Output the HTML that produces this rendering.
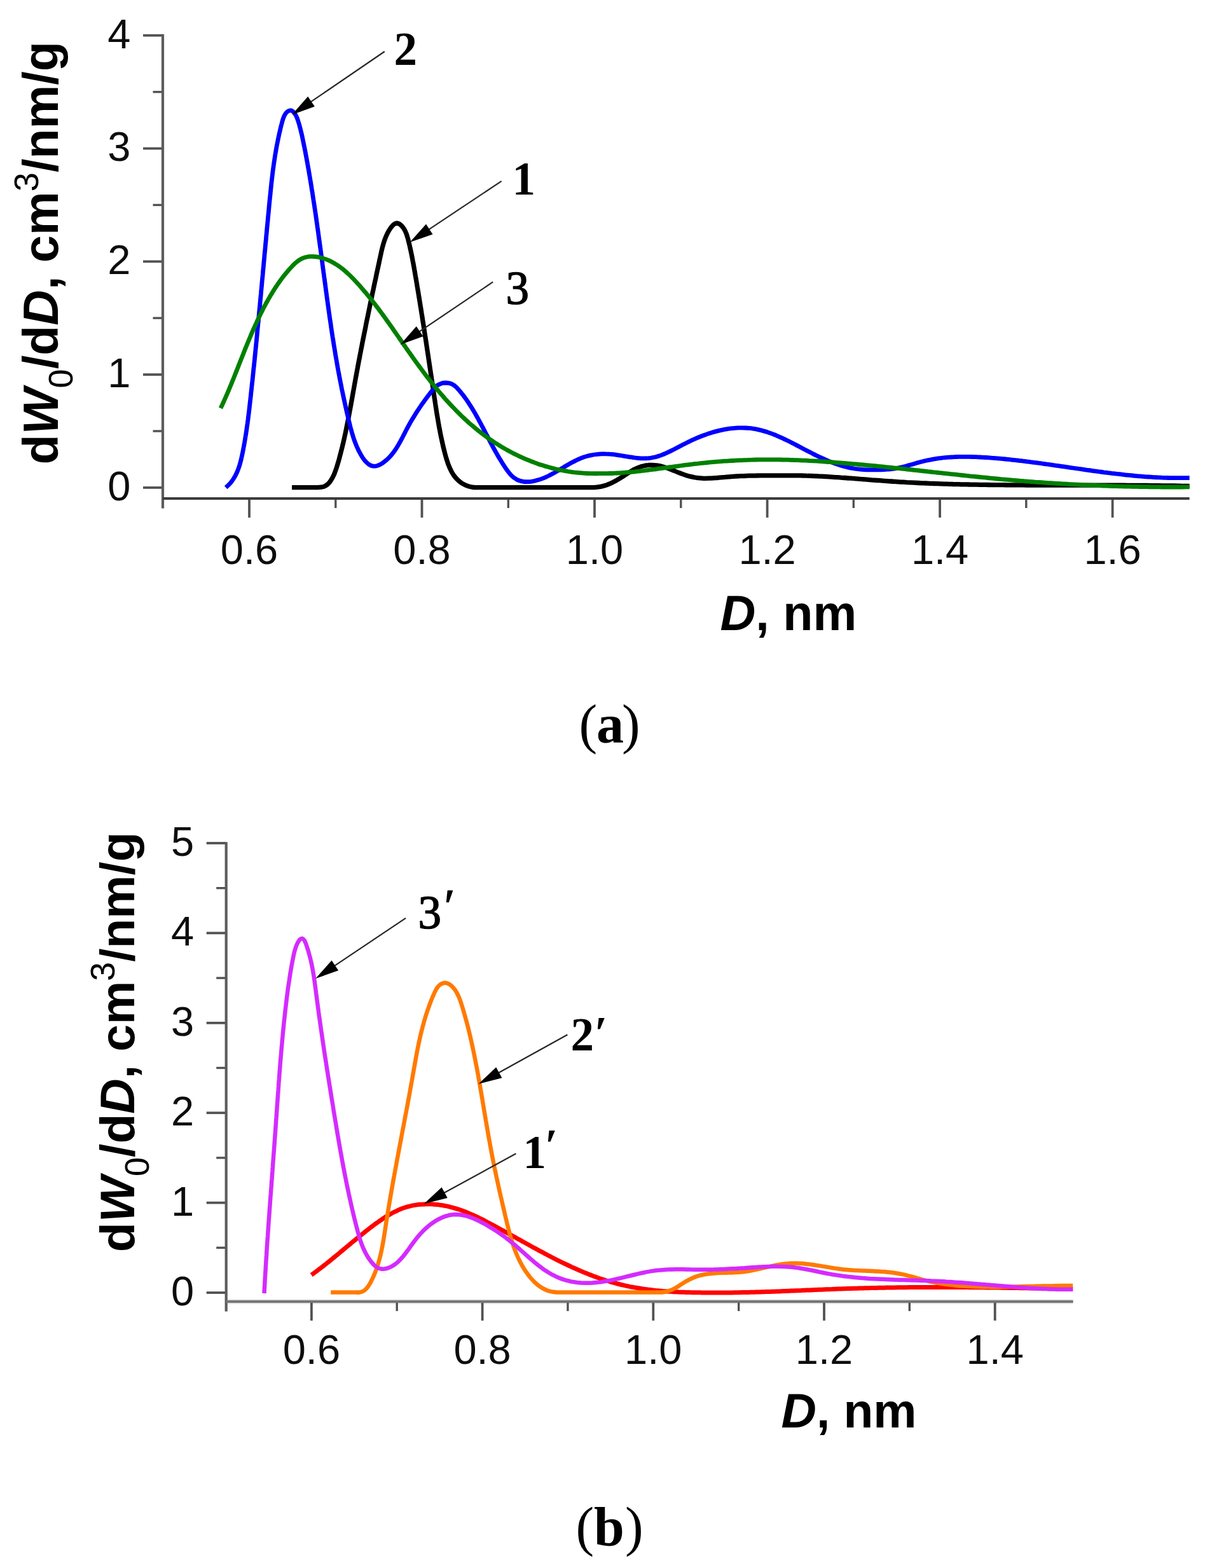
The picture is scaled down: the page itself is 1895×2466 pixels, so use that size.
<!DOCTYPE html>
<html lang="en"><head><meta charset="utf-8"><title>Micropore size distributions</title>
<style>
html,body{margin:0;padding:0;background:#fff;}
body{width:1895px;height:2466px;overflow:hidden;}
svg{display:block;}
.tk{font-family:"Liberation Sans",sans-serif;font-size:65px;fill:#0d0d0d;}
.ttl{font-family:"Liberation Sans",sans-serif;font-weight:bold;font-size:78px;fill:#000;}
.it{font-style:italic;}
.ss{font-size:54px;font-weight:normal;}
.nb{font-family:"Liberation Serif",serif;font-weight:bold;font-size:73px;fill:#000;}
.nr{font-family:"Liberation Serif",serif;font-weight:normal;font-size:73px;fill:#000;stroke:#000;stroke-width:1.5px;stroke-linejoin:round;}
.cap{font-family:"Liberation Serif",serif;font-size:86px;fill:#000;}
.crv{fill:none;stroke-linejoin:round;stroke-linecap:butt;}
</style></head><body>
<svg width="1895" height="2466" viewBox="0 0 1895 2466">
<rect width="1895" height="2466" fill="#fff"/>
<g id="chart-a">
<line x1="225.0" y1="766.9" x2="256.0" y2="766.9" stroke="#525252" stroke-width="3.8"/>
<text class="tk" x="205.5" y="786.8" text-anchor="end">0</text>
<line x1="240.5" y1="678.0" x2="256.0" y2="678.0" stroke="#525252" stroke-width="3.4"/>
<line x1="225.0" y1="589.1" x2="256.0" y2="589.1" stroke="#525252" stroke-width="3.8"/>
<text class="tk" x="205.5" y="609.0" text-anchor="end">1</text>
<line x1="240.5" y1="500.2" x2="256.0" y2="500.2" stroke="#525252" stroke-width="3.4"/>
<line x1="225.0" y1="411.3" x2="256.0" y2="411.3" stroke="#525252" stroke-width="3.8"/>
<text class="tk" x="205.5" y="431.2" text-anchor="end">2</text>
<line x1="240.5" y1="322.4" x2="256.0" y2="322.4" stroke="#525252" stroke-width="3.4"/>
<line x1="225.0" y1="233.5" x2="256.0" y2="233.5" stroke="#525252" stroke-width="3.8"/>
<text class="tk" x="205.5" y="253.4" text-anchor="end">3</text>
<line x1="240.5" y1="144.6" x2="256.0" y2="144.6" stroke="#525252" stroke-width="3.4"/>
<line x1="225.0" y1="55.7" x2="256.0" y2="55.7" stroke="#525252" stroke-width="3.8"/>
<text class="tk" x="205.5" y="75.6" text-anchor="end">4</text>
<line x1="392.0" y1="784.0" x2="392.0" y2="814.0" stroke="#525252" stroke-width="3.8"/>
<text class="tk" x="392.0" y="886.8" text-anchor="middle">0.6</text>
<line x1="527.8" y1="784.0" x2="527.8" y2="799.0" stroke="#525252" stroke-width="3.4"/>
<line x1="663.5" y1="784.0" x2="663.5" y2="814.0" stroke="#525252" stroke-width="3.8"/>
<text class="tk" x="663.5" y="886.8" text-anchor="middle">0.8</text>
<line x1="799.3" y1="784.0" x2="799.3" y2="799.0" stroke="#525252" stroke-width="3.4"/>
<line x1="935.0" y1="784.0" x2="935.0" y2="814.0" stroke="#525252" stroke-width="3.8"/>
<text class="tk" x="935.0" y="886.8" text-anchor="middle">1.0</text>
<line x1="1070.8" y1="784.0" x2="1070.8" y2="799.0" stroke="#525252" stroke-width="3.4"/>
<line x1="1206.6" y1="784.0" x2="1206.6" y2="814.0" stroke="#525252" stroke-width="3.8"/>
<text class="tk" x="1206.6" y="886.8" text-anchor="middle">1.2</text>
<line x1="1342.3" y1="784.0" x2="1342.3" y2="799.0" stroke="#525252" stroke-width="3.4"/>
<line x1="1478.1" y1="784.0" x2="1478.1" y2="814.0" stroke="#525252" stroke-width="3.8"/>
<text class="tk" x="1478.1" y="886.8" text-anchor="middle">1.4</text>
<line x1="1613.8" y1="784.0" x2="1613.8" y2="799.0" stroke="#525252" stroke-width="3.4"/>
<line x1="1749.6" y1="784.0" x2="1749.6" y2="814.0" stroke="#525252" stroke-width="3.8"/>
<text class="tk" x="1749.6" y="886.8" text-anchor="middle">1.6</text>
<line x1="256.0" y1="53.7" x2="256.0" y2="799.5" stroke="#5c5c5c" stroke-width="4.2"/>
<line x1="256.0" y1="784.0" x2="1870.6" y2="784.0" stroke="#3c3c3c" stroke-width="4"/>
<text class="ttl" style="font-size:77.3px" x="1132.5" y="990.9"><tspan class="it">D</tspan>, nm</text>
<text class="ttl" style="font-size:77.3px" transform="translate(91.0 730.6) rotate(-90)">d<tspan class="it">W</tspan><tspan class="ss" dy="23">0</tspan><tspan dy="-23">/d</tspan><tspan class="it">D</tspan>, cm<tspan class="ss" dy="-31">3</tspan><tspan dy="31">/nm/g</tspan></text>
<path class="crv" stroke-width="7.3" stroke="#000000" d="M459.0 766.6 L501.0 766.6M487.0 766.6C488.0 766.6 491.0 766.6 493.0 766.6C495.1 766.6 497.1 766.7 499.1 766.6C501.1 766.6 503.1 766.5 505.0 766.2C506.9 765.9 508.8 765.5 510.5 764.7C512.2 763.9 513.9 762.9 515.4 761.5C516.9 760.2 518.3 758.5 519.5 756.7C520.8 755.0 521.9 752.9 523.0 751.0C524.0 749.0 524.9 747.0 525.8 745.1C526.6 743.1 527.3 741.2 528.0 739.3C528.7 737.3 529.3 735.4 529.9 733.5C530.5 731.6 531.1 729.7 531.6 727.8C532.2 725.9 532.7 723.9 533.3 722.0C533.8 720.1 534.3 718.2 534.8 716.2C535.3 714.3 535.8 712.4 536.3 710.4C536.8 708.5 537.3 706.6 537.8 704.6C538.3 702.7 538.7 700.7 539.2 698.8C539.7 696.8 540.1 694.9 540.6 692.9C541.0 690.9 541.5 689.0 541.9 687.0C542.3 685.0 542.8 683.1 543.2 681.1C543.6 679.1 544.0 677.2 544.4 675.2C544.8 673.2 545.2 671.2 545.6 669.3C546.0 667.3 546.4 665.3 546.8 663.3C547.2 661.4 547.6 659.4 548.0 657.4C548.4 655.4 548.7 653.4 549.1 651.4C549.5 649.4 549.8 647.5 550.2 645.5C550.6 643.5 551.0 641.5 551.3 639.5C551.7 637.5 552.0 635.5 552.4 633.5C552.8 631.5 553.1 629.5 553.5 627.5C553.8 625.6 554.2 623.6 554.5 621.6C554.9 619.6 555.3 617.6 555.6 615.6C556.0 613.6 556.3 611.6 556.7 609.6C557.0 607.6 557.4 605.7 557.7 603.7C558.1 601.7 558.5 599.7 558.8 597.7C559.2 595.7 559.5 593.7 559.9 591.7C560.3 589.8 560.6 587.8 561.0 585.8C561.4 583.8 561.7 581.8 562.1 579.9C562.5 577.9 562.8 575.9 563.2 573.9C563.6 571.9 564.0 570.0 564.3 568.0C564.7 566.0 565.1 564.0 565.5 562.1C565.8 560.1 566.2 558.1 566.6 556.1C567.0 554.2 567.4 552.2 567.7 550.2C568.1 548.2 568.5 546.3 568.9 544.3C569.3 542.3 569.7 540.4 570.0 538.4C570.4 536.4 570.8 534.4 571.2 532.5C571.6 530.5 572.0 528.5 572.4 526.6C572.8 524.6 573.2 522.6 573.6 520.7C574.0 518.7 574.4 516.7 574.8 514.7C575.2 512.8 575.5 510.8 575.9 508.8C576.3 506.9 576.7 504.9 577.1 502.9C577.6 501.0 578.0 499.0 578.4 497.0C578.8 495.1 579.2 493.1 579.6 491.1C580.0 489.1 580.4 487.2 580.8 485.2C581.2 483.2 581.6 481.3 582.0 479.3C582.4 477.3 582.8 475.4 583.2 473.4C583.7 471.4 584.1 469.4 584.5 467.5C584.9 465.5 585.3 463.5 585.7 461.5C586.1 459.6 586.6 457.6 587.0 455.6C587.4 453.7 587.8 451.7 588.2 449.7C588.6 447.7 589.1 445.7 589.5 443.8C589.9 441.8 590.3 439.8 590.8 437.8C591.2 435.9 591.6 433.9 592.0 431.9C592.4 429.9 592.9 427.9 593.3 425.9C593.7 424.0 594.1 422.0 594.6 420.0C595.0 418.0 595.4 416.0 595.9 414.0C596.3 412.1 596.7 410.1 597.1 408.1C597.6 406.1 598.0 404.1 598.4 402.1C598.9 400.1 599.3 398.1 599.7 396.1C600.2 394.1 600.6 392.2 601.1 390.2C601.6 388.2 602.1 386.2 602.7 384.3C603.3 382.3 603.8 380.4 604.5 378.5C605.2 376.6 605.8 374.7 606.6 372.8C607.4 370.9 608.2 369.1 609.1 367.3C610.0 365.5 611.0 363.7 612.1 361.9C613.2 360.2 614.4 358.3 615.6 356.8C616.9 355.3 618.2 353.7 619.6 352.8C621.0 351.8 622.5 351.1 624.0 351.0C625.5 351.0 627.1 351.6 628.6 352.5C630.1 353.5 631.6 355.0 632.9 356.6C634.2 358.1 635.5 360.1 636.5 361.9C637.5 363.8 638.3 365.8 639.1 367.7C639.8 369.7 640.4 371.8 641.0 373.8C641.6 375.8 642.1 377.8 642.6 379.9C643.1 381.9 643.6 383.9 644.1 385.9C644.5 387.9 645.0 389.9 645.4 391.9C645.9 393.9 646.3 395.8 646.7 397.8C647.1 399.8 647.5 401.8 647.9 403.7C648.3 405.7 648.7 407.7 649.0 409.6C649.4 411.6 649.8 413.5 650.1 415.5C650.5 417.5 650.8 419.4 651.2 421.4C651.5 423.3 651.9 425.3 652.2 427.3C652.6 429.2 652.9 431.2 653.2 433.1C653.6 435.1 653.9 437.1 654.3 439.0C654.6 441.0 654.9 443.0 655.3 445.0C655.6 446.9 655.9 448.9 656.2 450.9C656.6 452.9 656.9 454.8 657.2 456.8C657.6 458.8 657.9 460.8 658.2 462.8C658.5 464.8 658.9 466.7 659.2 468.7C659.5 470.7 659.8 472.7 660.2 474.7C660.5 476.7 660.8 478.7 661.1 480.7C661.4 482.7 661.8 484.7 662.1 486.6C662.4 488.6 662.7 490.6 663.0 492.6C663.4 494.6 663.7 496.6 664.0 498.6C664.3 500.6 664.6 502.6 664.9 504.6C665.2 506.6 665.5 508.6 665.9 510.6C666.2 512.6 666.5 514.6 666.8 516.6C667.1 518.6 667.4 520.6 667.7 522.6C668.0 524.6 668.3 526.6 668.6 528.6C668.9 530.7 669.3 532.7 669.6 534.7C669.9 536.7 670.2 538.7 670.5 540.7C670.8 542.7 671.1 544.7 671.4 546.7C671.7 548.7 672.0 550.7 672.3 552.7C672.6 554.7 672.9 556.7 673.2 558.7C673.5 560.7 673.8 562.7 674.1 564.7C674.4 566.7 674.7 568.7 675.0 570.7C675.3 572.7 675.6 574.7 675.9 576.7C676.2 578.7 676.5 580.7 676.8 582.7C677.1 584.7 677.4 586.7 677.7 588.7C678.0 590.7 678.3 592.6 678.6 594.6C678.9 596.6 679.2 598.6 679.5 600.6C679.8 602.6 680.1 604.6 680.4 606.6C680.7 608.6 681.0 610.5 681.3 612.5C681.5 614.5 681.8 616.5 682.1 618.5C682.4 620.4 682.7 622.4 683.0 624.4C683.3 626.4 683.6 628.3 683.9 630.3C684.2 632.3 684.5 634.3 684.8 636.2C685.1 638.2 685.4 640.2 685.7 642.1C686.0 644.1 686.3 646.1 686.6 648.0C686.9 650.0 687.3 652.0 687.6 653.9C687.9 655.9 688.2 657.9 688.6 659.8C688.9 661.8 689.2 663.8 689.6 665.7C689.9 667.7 690.3 669.7 690.6 671.7C691.0 673.6 691.4 675.6 691.8 677.6C692.1 679.6 692.5 681.5 692.9 683.5C693.3 685.5 693.7 687.5 694.2 689.5C694.6 691.5 695.0 693.5 695.5 695.5C695.9 697.5 696.4 699.5 696.8 701.5C697.3 703.5 697.8 705.5 698.3 707.5C698.8 709.5 699.3 711.5 699.8 713.5C700.4 715.6 700.9 717.6 701.5 719.6C702.1 721.6 702.7 723.6 703.4 725.6C704.0 727.6 704.7 729.5 705.4 731.4C706.2 733.4 707.0 735.3 707.8 737.1C708.6 738.9 709.5 740.7 710.5 742.5C711.5 744.2 712.5 745.9 713.6 747.5C714.8 749.1 715.9 750.6 717.2 752.1C718.5 753.5 719.9 754.9 721.3 756.2C722.8 757.4 724.4 758.6 726.0 759.7C727.7 760.8 729.4 761.7 731.2 762.6C733.0 763.4 734.9 764.2 736.8 764.8C738.7 765.4 740.6 765.8 742.6 766.1C744.6 766.5 746.6 766.6 748.6 766.7C750.6 766.7 752.6 766.6 754.7 766.6C756.7 766.6 759.7 766.6 760.7 766.6M746.7 766.6 L932.1 766.6M918.1 766.6C919.1 766.6 922.2 766.7 924.3 766.7C926.3 766.7 928.4 766.7 930.4 766.6C932.5 766.6 934.5 766.5 936.5 766.3C938.5 766.2 940.6 765.9 942.6 765.6C944.5 765.3 946.5 764.9 948.5 764.4C950.4 763.9 952.3 763.3 954.2 762.7C956.1 762.0 958.0 761.2 959.9 760.4C961.8 759.5 963.6 758.6 965.4 757.6C967.3 756.7 969.1 755.7 970.9 754.6C972.7 753.5 974.5 752.4 976.3 751.3C978.1 750.2 979.9 749.1 981.7 747.9C983.5 746.8 985.2 745.6 987.0 744.5C988.8 743.3 990.6 742.2 992.4 741.1C994.2 740.1 996.0 739.0 997.8 738.1C999.6 737.2 1001.5 736.3 1003.3 735.5C1005.2 734.8 1007.0 734.1 1008.9 733.5C1010.8 733.0 1012.7 732.6 1014.6 732.2C1016.5 731.9 1018.5 731.7 1020.4 731.5C1022.4 731.4 1024.3 731.4 1026.3 731.4C1028.3 731.5 1030.2 731.7 1032.2 731.9C1034.2 732.2 1036.2 732.5 1038.1 732.9C1040.1 733.4 1042.1 733.9 1044.0 734.5C1046.0 735.1 1048.0 735.7 1049.9 736.4C1051.9 737.1 1053.9 737.9 1055.8 738.6C1057.8 739.4 1059.8 740.2 1061.7 741.0C1063.7 741.8 1065.7 742.6 1067.6 743.4C1069.6 744.2 1071.6 745.0 1073.5 745.7C1075.5 746.4 1077.5 747.1 1079.4 747.7C1081.4 748.3 1083.4 748.9 1085.4 749.4C1087.4 749.9 1089.4 750.3 1091.4 750.7C1093.4 751.0 1095.4 751.4 1097.4 751.6C1099.4 751.8 1101.4 752.0 1103.4 752.1C1105.4 752.2 1107.5 752.3 1109.5 752.3C1111.5 752.3 1113.6 752.3 1115.6 752.2C1117.6 752.1 1119.7 752.0 1121.7 751.9C1123.8 751.8 1125.8 751.6 1127.9 751.5C1129.9 751.3 1132.0 751.1 1134.0 750.9C1136.1 750.7 1138.2 750.5 1140.2 750.4C1142.3 750.2 1144.3 750.0 1146.4 749.8C1148.4 749.7 1150.5 749.5 1152.5 749.4C1154.6 749.3 1156.6 749.1 1158.7 749.0C1160.7 748.9 1162.8 748.8 1164.8 748.7C1166.9 748.6 1168.9 748.5 1171.0 748.5C1173.0 748.4 1175.1 748.3 1177.1 748.2C1179.2 748.2 1181.2 748.1 1183.3 748.1C1185.3 748.0 1187.4 748.0 1189.4 748.0C1191.5 747.9 1193.5 747.9 1195.6 747.9C1197.6 747.9 1199.7 747.8 1201.7 747.8C1203.8 747.8 1205.8 747.8 1207.9 747.8C1209.9 747.8 1212.0 747.8 1214.0 747.8C1216.1 747.8 1219.2 747.8 1220.2 747.8M1206.2 747.8 L1251.4 747.8M1237.4 747.8C1238.4 747.8 1241.5 747.8 1243.5 747.8C1245.5 747.8 1247.6 747.8 1249.6 747.8C1251.6 747.8 1253.6 747.9 1255.7 747.9C1257.7 747.9 1259.7 748.0 1261.8 748.0C1263.8 748.1 1265.8 748.1 1267.9 748.2C1269.9 748.2 1271.9 748.3 1273.9 748.4C1276.0 748.5 1278.0 748.5 1280.0 748.6C1282.0 748.7 1284.1 748.8 1286.1 748.9C1288.1 749.0 1290.2 749.1 1292.2 749.2C1294.2 749.3 1296.2 749.4 1298.3 749.5C1300.3 749.6 1302.3 749.8 1304.3 749.9C1306.4 750.0 1308.4 750.1 1310.4 750.3C1312.4 750.4 1314.5 750.5 1316.5 750.7C1318.5 750.8 1320.6 750.9 1322.6 751.1C1324.6 751.2 1326.6 751.4 1328.7 751.5C1330.7 751.7 1332.7 751.8 1334.7 752.0C1336.8 752.1 1338.8 752.3 1340.8 752.4C1342.8 752.6 1344.9 752.7 1346.9 752.9C1348.9 753.1 1350.9 753.2 1353.0 753.4C1355.0 753.5 1357.0 753.7 1359.0 753.8C1361.1 754.0 1363.1 754.2 1365.1 754.3C1367.1 754.5 1369.2 754.6 1371.2 754.8C1373.2 754.9 1375.2 755.1 1377.3 755.3C1379.3 755.4 1381.3 755.6 1383.3 755.7C1385.4 755.9 1387.4 756.0 1389.4 756.2C1391.4 756.3 1393.5 756.5 1395.5 756.6C1397.5 756.8 1399.5 756.9 1401.6 757.0C1403.6 757.2 1405.6 757.3 1407.6 757.4C1409.7 757.6 1411.7 757.7 1413.7 757.8C1415.7 758.0 1417.8 758.1 1419.8 758.2C1421.8 758.3 1423.9 758.4 1425.9 758.6C1427.9 758.7 1429.9 758.8 1432.0 758.9C1434.0 759.0 1436.0 759.1 1438.0 759.2C1440.1 759.3 1442.1 759.4 1444.1 759.5C1446.2 759.6 1448.2 759.7 1450.2 759.8C1452.2 759.9 1454.3 759.9 1456.3 760.0C1458.3 760.1 1460.4 760.2 1462.4 760.3C1464.4 760.4 1466.4 760.4 1468.5 760.5C1470.5 760.6 1472.5 760.7 1474.6 760.7C1476.6 760.8 1478.6 760.9 1480.6 760.9C1482.7 761.0 1484.7 761.1 1486.7 761.1C1488.8 761.2 1490.8 761.2 1492.8 761.3C1494.8 761.4 1496.9 761.4 1498.9 761.5C1500.9 761.5 1503.0 761.6 1505.0 761.6C1507.0 761.7 1509.1 761.7 1511.1 761.8C1513.1 761.8 1515.1 761.8 1517.2 761.9C1519.2 761.9 1521.2 762.0 1523.3 762.0C1525.3 762.0 1527.3 762.1 1529.4 762.1C1531.4 762.2 1533.4 762.2 1535.5 762.2C1537.5 762.3 1539.5 762.3 1541.5 762.3C1543.6 762.3 1545.6 762.4 1547.6 762.4C1549.7 762.4 1551.7 762.5 1553.7 762.5C1555.8 762.5 1557.8 762.5 1559.8 762.6C1561.9 762.6 1563.9 762.6 1565.9 762.6C1567.9 762.6 1570.0 762.7 1572.0 762.7C1574.0 762.7 1576.1 762.7 1578.1 762.7C1580.1 762.7 1582.2 762.8 1584.2 762.8C1586.2 762.8 1588.3 762.8 1590.3 762.8C1592.3 762.8 1594.4 762.8 1596.4 762.9C1598.4 762.9 1600.5 762.9 1602.5 762.9C1604.5 762.9 1606.5 762.9 1608.6 762.9C1610.6 762.9 1612.6 762.9 1614.7 763.0C1616.7 763.0 1618.7 763.0 1620.8 763.0C1622.8 763.0 1624.8 763.0 1626.9 763.0C1628.9 763.0 1630.9 763.0 1633.0 763.0C1635.0 763.0 1637.0 763.0 1639.1 763.0C1641.1 763.0 1643.1 763.0 1645.1 763.0C1647.2 763.0 1649.2 763.0 1651.2 763.1C1653.3 763.1 1655.3 763.1 1657.3 763.1C1659.4 763.1 1661.4 763.1 1663.4 763.1C1665.5 763.1 1667.5 763.1 1669.5 763.1C1671.6 763.1 1673.6 763.1 1675.6 763.1C1677.7 763.1 1679.7 763.1 1681.7 763.1C1683.8 763.1 1685.8 763.1 1687.8 763.1C1689.9 763.1 1691.9 763.1 1693.9 763.1C1695.9 763.1 1698.0 763.1 1700.0 763.1C1702.0 763.1 1704.1 763.1 1706.1 763.1C1708.1 763.1 1710.2 763.1 1712.2 763.1C1714.2 763.1 1716.3 763.1 1718.3 763.1C1720.3 763.1 1722.4 763.1 1724.4 763.1C1726.4 763.1 1728.5 763.1 1730.5 763.1C1732.5 763.1 1734.6 763.1 1736.6 763.1C1738.6 763.1 1740.6 763.2 1742.7 763.2C1744.7 763.2 1746.7 763.2 1748.8 763.2C1750.8 763.2 1752.8 763.2 1754.9 763.2C1756.9 763.2 1758.9 763.2 1761.0 763.2C1763.0 763.2 1765.0 763.2 1767.1 763.2C1769.1 763.3 1771.1 763.3 1773.1 763.3C1775.2 763.3 1777.2 763.3 1779.2 763.3C1781.3 763.3 1783.3 763.3 1785.3 763.3C1787.4 763.4 1789.4 763.4 1791.4 763.4C1793.5 763.4 1795.5 763.4 1797.5 763.4C1799.5 763.5 1801.6 763.5 1803.6 763.5C1805.6 763.5 1807.7 763.5 1809.7 763.6C1811.7 763.6 1813.8 763.6 1815.8 763.6C1817.8 763.6 1819.9 763.7 1821.9 763.7C1823.9 763.7 1825.9 763.7 1828.0 763.8C1830.0 763.8 1832.0 763.8 1834.1 763.8C1836.1 763.9 1838.1 763.9 1840.2 763.9C1842.2 764.0 1844.2 764.0 1846.2 764.0C1848.3 764.1 1850.3 764.1 1852.3 764.1C1854.4 764.2 1856.4 764.2 1858.4 764.3C1860.5 764.3 1862.5 764.3 1864.5 764.4C1866.5 764.4 1869.6 764.5 1870.6 764.5"/>
<path class="crv" stroke-width="6.8" stroke="#0000ff" d="M355.2 766.7C356.0 766.0 358.3 763.9 359.8 762.4C361.2 761.0 362.5 759.4 363.8 757.9C365.0 756.3 366.1 754.7 367.2 753.0C368.3 751.3 369.3 749.6 370.2 747.9C371.1 746.1 372.0 744.3 372.8 742.5C373.6 740.7 374.3 738.8 375.0 736.9C375.6 735.1 376.3 733.2 376.9 731.2C377.4 729.3 378.0 727.4 378.5 725.4C379.0 723.5 379.5 721.5 379.9 719.5C380.4 717.5 380.8 715.5 381.2 713.5C381.6 711.6 382.0 709.6 382.4 707.6C382.8 705.6 383.2 703.6 383.5 701.6C383.9 699.6 384.2 697.6 384.6 695.6C384.9 693.7 385.3 691.7 385.6 689.7C385.9 687.7 386.2 685.7 386.6 683.7C386.9 681.7 387.2 679.8 387.5 677.8C387.8 675.8 388.1 673.8 388.3 671.8C388.6 669.8 388.9 667.8 389.2 665.9C389.4 663.9 389.7 661.9 390.0 659.9C390.2 657.9 390.5 655.9 390.7 654.0C391.0 652.0 391.2 650.0 391.5 648.0C391.7 646.0 391.9 644.0 392.2 642.0C392.4 640.1 392.6 638.1 392.8 636.1C393.1 634.1 393.3 632.1 393.5 630.1C393.7 628.1 394.0 626.1 394.2 624.2C394.4 622.2 394.6 620.2 394.8 618.2C395.0 616.2 395.3 614.2 395.5 612.2C395.7 610.2 395.9 608.2 396.1 606.2C396.3 604.2 396.5 602.2 396.8 600.3C397.0 598.3 397.2 596.3 397.4 594.3C397.6 592.3 397.8 590.3 398.0 588.3C398.2 586.3 398.4 584.3 398.6 582.3C398.8 580.3 399.0 578.3 399.3 576.3C399.5 574.3 399.7 572.3 399.9 570.3C400.1 568.3 400.3 566.3 400.5 564.3C400.7 562.3 400.9 560.3 401.1 558.3C401.3 556.3 401.5 554.3 401.7 552.3C401.9 550.3 402.1 548.3 402.3 546.3C402.5 544.3 402.7 542.3 402.9 540.3C403.1 538.3 403.3 536.3 403.5 534.3C403.7 532.3 403.9 530.3 404.1 528.2C404.3 526.2 404.4 524.2 404.6 522.2C404.8 520.2 405.0 518.2 405.2 516.2C405.4 514.2 405.6 512.2 405.8 510.2C406.0 508.2 406.2 506.2 406.4 504.2C406.6 502.2 406.8 500.2 407.0 498.2C407.1 496.2 407.3 494.1 407.5 492.1C407.7 490.1 407.9 488.1 408.1 486.1C408.3 484.1 408.5 482.1 408.7 480.1C408.9 478.1 409.0 476.1 409.2 474.1C409.4 472.1 409.6 470.1 409.8 468.1C410.0 466.1 410.2 464.0 410.4 462.0C410.5 460.0 410.7 458.0 410.9 456.0C411.1 454.0 411.3 452.0 411.5 450.0C411.7 448.0 411.9 446.0 412.0 444.0C412.2 442.0 412.4 440.0 412.6 438.0C412.8 436.0 413.0 434.0 413.2 432.0C413.3 430.0 413.5 427.9 413.7 425.9C413.9 423.9 414.1 421.9 414.3 419.9C414.5 417.9 414.6 415.9 414.8 413.9C415.0 411.9 415.2 409.9 415.4 407.9C415.6 405.9 415.8 403.9 415.9 401.9C416.1 399.9 416.3 397.9 416.5 395.9C416.7 393.9 416.9 391.9 417.1 389.9C417.2 387.9 417.4 385.9 417.6 383.9C417.8 381.9 418.0 379.9 418.2 377.9C418.4 375.9 418.5 373.9 418.7 371.9C418.9 369.9 419.1 367.9 419.3 365.9C419.5 363.9 419.7 362.0 419.8 360.0C420.0 358.0 420.2 356.0 420.4 354.0C420.6 352.0 420.8 350.0 421.0 348.0C421.2 346.0 421.3 344.0 421.5 342.0C421.7 340.0 421.9 338.1 422.1 336.1C422.3 334.1 422.5 332.1 422.7 330.1C422.9 328.1 423.0 326.1 423.2 324.1C423.4 322.2 423.6 320.2 423.8 318.2C424.0 316.2 424.2 314.2 424.4 312.2C424.6 310.3 424.8 308.3 425.0 306.3C425.2 304.3 425.4 302.3 425.6 300.3C425.8 298.4 426.0 296.4 426.2 294.4C426.4 292.4 426.6 290.4 426.8 288.5C427.0 286.5 427.3 284.5 427.5 282.5C427.7 280.5 428.0 278.5 428.2 276.6C428.4 274.6 428.7 272.6 428.9 270.6C429.2 268.6 429.4 266.6 429.7 264.6C430.0 262.7 430.2 260.7 430.5 258.7C430.8 256.7 431.1 254.7 431.4 252.7C431.7 250.7 432.0 248.7 432.3 246.7C432.6 244.7 432.9 242.7 433.3 240.7C433.6 238.7 434.0 236.7 434.3 234.7C434.7 232.7 435.0 230.7 435.4 228.7C435.8 226.7 436.2 224.7 436.6 222.6C437.0 220.6 437.4 218.6 437.8 216.6C438.3 214.6 438.7 212.5 439.1 210.5C439.6 208.5 440.1 206.5 440.6 204.4C441.0 202.4 441.5 200.4 442.0 198.3C442.6 196.3 443.1 194.2 443.6 192.2C444.2 190.2 444.7 188.1 445.4 186.3C446.1 184.4 446.8 182.5 447.7 180.9C448.6 179.3 449.6 177.9 450.8 176.7C452.0 175.5 453.5 174.4 454.9 174.0C456.4 173.6 458.1 173.6 459.6 174.4C461.1 175.2 462.5 177.0 463.7 178.7C464.9 180.4 465.9 182.6 466.8 184.6C467.7 186.6 468.3 188.5 468.9 190.5C469.6 192.5 470.1 194.4 470.7 196.4C471.2 198.3 471.7 200.3 472.2 202.2C472.7 204.2 473.2 206.1 473.7 208.1C474.2 210.1 474.6 212.0 475.1 214.0C475.5 215.9 475.9 217.9 476.3 219.9C476.7 221.8 477.1 223.8 477.5 225.8C477.9 227.7 478.3 229.7 478.7 231.6C479.1 233.6 479.5 235.6 479.9 237.5C480.2 239.5 480.6 241.5 481.0 243.5C481.4 245.4 481.7 247.4 482.1 249.4C482.4 251.3 482.8 253.3 483.2 255.3C483.5 257.3 483.9 259.2 484.2 261.2C484.6 263.2 484.9 265.2 485.3 267.1C485.6 269.1 486.0 271.1 486.3 273.1C486.6 275.0 487.0 277.0 487.3 279.0C487.6 281.0 488.0 283.0 488.3 284.9C488.6 286.9 489.0 288.9 489.3 290.9C489.6 292.9 489.9 294.8 490.2 296.8C490.6 298.8 490.9 300.8 491.2 302.8C491.5 304.8 491.8 306.7 492.1 308.7C492.4 310.7 492.7 312.7 493.0 314.7C493.3 316.7 493.6 318.7 493.9 320.6C494.2 322.6 494.5 324.6 494.8 326.6C495.1 328.6 495.4 330.6 495.7 332.6C496.0 334.6 496.3 336.5 496.6 338.5C496.9 340.5 497.2 342.5 497.4 344.5C497.7 346.5 498.0 348.5 498.3 350.5C498.6 352.5 498.9 354.5 499.1 356.4C499.4 358.4 499.7 360.4 500.0 362.4C500.3 364.4 500.5 366.4 500.8 368.4C501.1 370.4 501.3 372.4 501.6 374.4C501.9 376.4 502.2 378.4 502.4 380.4C502.7 382.3 503.0 384.3 503.2 386.3C503.5 388.3 503.8 390.3 504.1 392.3C504.3 394.3 504.6 396.3 504.9 398.3C505.1 400.3 505.4 402.3 505.7 404.3C505.9 406.3 506.2 408.3 506.5 410.3C506.7 412.2 507.0 414.2 507.2 416.2C507.5 418.2 507.8 420.2 508.0 422.2C508.3 424.2 508.6 426.2 508.8 428.2C509.1 430.2 509.4 432.2 509.6 434.2C509.9 436.2 510.2 438.2 510.4 440.1C510.7 442.1 511.0 444.1 511.2 446.1C511.5 448.1 511.8 450.1 512.0 452.1C512.3 454.1 512.6 456.1 512.8 458.1C513.1 460.1 513.4 462.1 513.6 464.0C513.9 466.0 514.2 468.0 514.4 470.0C514.7 472.0 515.0 474.0 515.3 476.0C515.5 478.0 515.8 480.0 516.1 482.0C516.4 483.9 516.6 485.9 516.9 487.9C517.2 489.9 517.5 491.9 517.8 493.9C518.0 495.9 518.3 497.9 518.6 499.9C518.9 501.8 519.2 503.8 519.5 505.8C519.8 507.8 520.1 509.8 520.4 511.8C520.6 513.8 520.9 515.7 521.2 517.7C521.5 519.7 521.8 521.7 522.1 523.7C522.4 525.7 522.7 527.7 523.0 529.6C523.4 531.6 523.7 533.6 524.0 535.6C524.3 537.6 524.6 539.6 524.9 541.5C525.2 543.5 525.6 545.5 525.9 547.5C526.2 549.5 526.5 551.5 526.9 553.4C527.2 555.4 527.5 557.4 527.8 559.4C528.2 561.4 528.5 563.3 528.9 565.3C529.2 567.3 529.5 569.3 529.9 571.2C530.2 573.2 530.6 575.2 530.9 577.2C531.3 579.2 531.7 581.1 532.0 583.1C532.4 585.1 532.8 587.1 533.1 589.0C533.5 591.0 533.9 593.0 534.2 595.0C534.6 596.9 535.0 598.9 535.4 600.9C535.8 602.9 536.2 604.8 536.6 606.8C536.9 608.8 537.3 610.7 537.7 612.7C538.2 614.7 538.6 616.7 539.0 618.6C539.4 620.6 539.8 622.6 540.2 624.5C540.6 626.5 541.1 628.5 541.5 630.4C541.9 632.4 542.3 634.4 542.8 636.3C543.2 638.3 543.6 640.2 544.1 642.2C544.5 644.2 545.0 646.1 545.4 648.1C545.9 650.1 546.3 652.0 546.8 654.0C547.2 655.9 547.7 657.9 548.2 659.8C548.6 661.8 549.1 663.7 549.6 665.7C550.1 667.6 550.5 669.6 551.0 671.5C551.5 673.5 552.1 675.4 552.6 677.4C553.1 679.3 553.7 681.2 554.2 683.1C554.8 685.1 555.4 687.0 556.0 688.9C556.7 690.8 557.3 692.7 558.0 694.5C558.7 696.4 559.4 698.3 560.2 700.1C560.9 702.0 561.7 703.8 562.6 705.6C563.4 707.5 564.3 709.3 565.3 711.1C566.2 712.9 567.2 714.6 568.3 716.4C569.3 718.1 570.4 719.9 571.6 721.6C572.8 723.2 574.0 724.9 575.5 726.3C576.9 727.8 578.4 729.2 580.1 730.3C581.8 731.4 583.7 732.4 585.6 732.8C587.5 733.3 589.5 733.3 591.4 733.0C593.3 732.7 595.3 731.8 597.1 730.9C598.9 730.0 600.7 728.8 602.4 727.7C604.0 726.5 605.6 725.3 607.2 724.0C608.7 722.7 610.2 721.3 611.6 719.9C613.0 718.5 614.3 717.0 615.6 715.5C616.9 714.0 618.1 712.4 619.3 710.8C620.5 709.2 621.6 707.6 622.7 705.9C623.8 704.2 624.9 702.5 625.9 700.7C626.9 699.0 627.9 697.2 628.9 695.5C629.9 693.7 630.9 691.9 631.8 690.1C632.8 688.3 633.7 686.5 634.6 684.6C635.6 682.8 636.5 681.0 637.4 679.2C638.3 677.4 639.3 675.6 640.2 673.8C641.2 672.1 642.1 670.3 643.1 668.5C644.1 666.8 645.0 665.0 646.0 663.3C647.0 661.6 648.0 659.9 649.1 658.2C650.1 656.5 651.1 654.8 652.2 653.1C653.2 651.4 654.3 649.7 655.3 648.1C656.4 646.4 657.5 644.7 658.6 643.1C659.7 641.4 660.8 639.8 662.0 638.1C663.1 636.5 664.2 634.8 665.4 633.2C666.6 631.6 667.8 629.9 669.0 628.3C670.1 626.7 671.4 625.0 672.6 623.4C673.8 621.8 675.1 620.1 676.3 618.5C677.6 616.8 678.9 615.2 680.2 613.6C681.5 612.0 682.9 610.4 684.3 609.0C685.8 607.7 687.3 606.3 689.0 605.3C690.7 604.3 692.5 603.5 694.4 602.9C696.3 602.4 698.4 602.1 700.4 602.0C702.4 602.0 704.5 602.2 706.5 602.6C708.4 603.1 710.4 603.8 712.1 604.7C713.8 605.7 715.4 606.9 716.9 608.2C718.3 609.5 719.6 611.1 720.9 612.6C722.3 614.0 723.5 615.6 724.8 617.1C726.1 618.7 727.3 620.3 728.6 621.9C729.8 623.5 731.0 625.1 732.2 626.8C733.4 628.4 734.5 630.1 735.7 631.8C736.8 633.5 737.9 635.2 739.0 636.9C740.1 638.6 741.2 640.3 742.3 642.1C743.4 643.8 744.4 645.6 745.5 647.3C746.5 649.1 747.5 650.8 748.5 652.6C749.5 654.4 750.5 656.1 751.5 657.9C752.5 659.7 753.4 661.5 754.4 663.2C755.3 665.0 756.3 666.7 757.2 668.5C758.1 670.2 759.1 672.0 760.0 673.7C760.9 675.5 761.8 677.2 762.7 679.0C763.6 680.7 764.5 682.4 765.4 684.2C766.3 685.9 767.2 687.6 768.1 689.4C769.0 691.1 769.9 692.8 770.8 694.6C771.7 696.3 772.6 698.0 773.6 699.8C774.5 701.5 775.4 703.2 776.4 705.0C777.3 706.7 778.3 708.5 779.3 710.2C780.3 712.0 781.3 713.7 782.3 715.5C783.3 717.3 784.3 719.1 785.4 720.8C786.5 722.6 787.5 724.4 788.7 726.2C789.8 728.0 790.9 729.8 792.1 731.6C793.2 733.4 794.4 735.3 795.7 737.1C796.9 738.8 798.2 740.6 799.5 742.3C800.8 744.0 802.2 745.6 803.6 747.1C805.1 748.6 806.5 750.0 808.1 751.2C809.6 752.4 811.3 753.4 812.9 754.3C814.6 755.1 816.4 755.8 818.2 756.3C820.0 756.9 821.8 757.2 823.7 757.5C825.6 757.7 827.5 757.8 829.4 757.7C831.4 757.7 833.4 757.5 835.3 757.3C837.3 757.0 839.3 756.7 841.2 756.2C843.2 755.8 845.2 755.2 847.1 754.6C849.1 754.0 851.0 753.3 852.9 752.6C854.8 751.9 856.7 751.1 858.5 750.3C860.4 749.4 862.2 748.6 864.0 747.6C865.8 746.7 867.6 745.8 869.4 744.8C871.2 743.9 872.9 742.9 874.7 741.8C876.4 740.8 878.2 739.8 879.9 738.8C881.7 737.7 883.4 736.7 885.2 735.6C886.9 734.6 888.6 733.6 890.4 732.5C892.1 731.5 893.8 730.5 895.6 729.5C897.3 728.5 899.1 727.6 900.8 726.6C902.6 725.7 904.4 724.8 906.1 723.9C907.9 723.1 909.7 722.2 911.5 721.5C913.4 720.7 915.2 720.0 917.1 719.3C918.9 718.6 920.8 718.0 922.7 717.5C924.6 717.0 926.5 716.5 928.5 716.1C930.4 715.7 932.4 715.3 934.3 715.0C936.3 714.7 938.3 714.5 940.3 714.3C942.3 714.1 944.3 714.0 946.3 713.9C948.4 713.8 950.4 713.8 952.4 713.9C954.5 713.9 956.5 714.0 958.6 714.2C960.7 714.3 962.7 714.5 964.8 714.7C966.8 715.0 968.9 715.3 971.0 715.6C973.1 715.9 975.1 716.2 977.2 716.5C979.3 716.9 981.3 717.2 983.4 717.6C985.4 717.9 987.5 718.3 989.5 718.6C991.6 718.9 993.6 719.3 995.7 719.5C997.7 719.8 999.7 720.1 1001.7 720.3C1003.7 720.5 1005.7 720.7 1007.7 720.8C1009.7 720.9 1011.7 721.0 1013.6 720.9C1015.6 720.9 1017.5 720.8 1019.4 720.7C1021.4 720.5 1023.2 720.2 1025.1 719.9C1027.0 719.6 1028.9 719.1 1030.7 718.7C1032.6 718.2 1034.4 717.6 1036.3 717.1C1038.1 716.5 1039.9 715.8 1041.7 715.1C1043.5 714.4 1045.3 713.6 1047.1 712.9C1048.9 712.1 1050.7 711.2 1052.5 710.4C1054.3 709.5 1056.1 708.6 1057.9 707.7C1059.7 706.8 1061.5 705.9 1063.3 705.0C1065.1 704.0 1066.9 703.1 1068.7 702.1C1070.5 701.2 1072.3 700.2 1074.1 699.3C1075.9 698.3 1077.7 697.4 1079.6 696.5C1081.4 695.6 1083.2 694.6 1085.1 693.8C1086.9 692.9 1088.8 692.0 1090.7 691.2C1092.6 690.3 1094.5 689.5 1096.4 688.7C1098.3 687.9 1100.2 687.1 1102.1 686.3C1104.0 685.6 1105.9 684.9 1107.8 684.2C1109.8 683.5 1111.7 682.8 1113.6 682.1C1115.6 681.5 1117.5 680.9 1119.5 680.3C1121.4 679.7 1123.4 679.1 1125.3 678.6C1127.3 678.1 1129.3 677.6 1131.2 677.1C1133.2 676.7 1135.2 676.2 1137.1 675.8C1139.1 675.4 1141.1 675.1 1143.0 674.8C1145.0 674.4 1147.0 674.2 1149.0 673.9C1150.9 673.7 1152.9 673.5 1154.9 673.3C1156.8 673.1 1158.8 673.0 1160.8 672.9C1162.7 672.8 1164.7 672.8 1166.6 672.8C1168.6 672.8 1170.5 672.9 1172.5 673.0C1174.4 673.1 1176.4 673.2 1178.3 673.4C1180.3 673.6 1182.2 673.8 1184.1 674.1C1186.0 674.4 1187.9 674.7 1189.9 675.1C1191.8 675.5 1193.7 675.9 1195.6 676.4C1197.5 676.8 1199.4 677.3 1201.2 677.9C1203.1 678.4 1205.0 679.0 1206.9 679.6C1208.8 680.3 1210.6 680.9 1212.5 681.6C1214.4 682.3 1216.2 683.0 1218.1 683.7C1219.9 684.5 1221.8 685.3 1223.6 686.1C1225.5 686.9 1227.3 687.7 1229.2 688.5C1231.0 689.4 1232.9 690.2 1234.7 691.1C1236.5 692.0 1238.4 692.9 1240.2 693.8C1242.1 694.7 1243.9 695.6 1245.7 696.6C1247.5 697.5 1249.4 698.4 1251.2 699.4C1253.0 700.3 1254.9 701.3 1256.7 702.3C1258.5 703.2 1260.4 704.2 1262.2 705.2C1264.0 706.1 1265.9 707.1 1267.7 708.1C1269.5 709.0 1271.4 710.0 1273.2 710.9C1275.0 711.9 1276.9 712.8 1278.7 713.7C1280.5 714.7 1282.4 715.6 1284.2 716.5C1286.1 717.4 1287.9 718.3 1289.8 719.2C1291.6 720.0 1293.5 720.9 1295.3 721.7C1297.2 722.6 1299.0 723.4 1300.9 724.2C1302.8 725.0 1304.6 725.7 1306.5 726.5C1308.4 727.2 1310.2 727.9 1312.1 728.6C1314.0 729.3 1315.9 730.0 1317.8 730.6C1319.7 731.2 1321.6 731.8 1323.5 732.4C1325.4 732.9 1327.3 733.5 1329.2 734.0C1331.1 734.5 1333.1 734.9 1335.0 735.4C1336.9 735.8 1338.9 736.2 1340.8 736.5C1342.7 736.9 1344.7 737.2 1346.7 737.5C1348.6 737.8 1350.6 738.0 1352.6 738.2C1354.5 738.4 1356.5 738.5 1358.5 738.6C1360.5 738.7 1362.5 738.8 1364.5 738.8C1366.5 738.8 1368.6 738.8 1370.6 738.8C1372.6 738.8 1375.6 738.8 1376.6 738.8M1362.6 738.8 L1385.2 738.8M1371.2 738.8C1372.2 738.8 1375.3 738.8 1377.3 738.8C1379.4 738.9 1381.4 738.8 1383.5 738.8C1385.5 738.8 1387.6 738.7 1389.6 738.6C1391.6 738.5 1393.7 738.4 1395.7 738.2C1397.7 738.1 1399.8 737.9 1401.8 737.6C1403.8 737.4 1405.8 737.1 1407.8 736.8C1409.9 736.4 1411.9 736.0 1413.9 735.6C1415.9 735.2 1417.9 734.7 1419.9 734.2C1421.9 733.7 1423.9 733.2 1425.9 732.7C1427.9 732.1 1429.9 731.6 1431.9 731.0C1433.9 730.5 1435.8 729.9 1437.8 729.3C1439.8 728.7 1441.8 728.2 1443.8 727.6C1445.8 727.1 1447.8 726.5 1449.8 726.0C1451.8 725.5 1453.8 725.0 1455.8 724.5C1457.8 724.1 1459.8 723.7 1461.8 723.3C1463.8 722.9 1465.8 722.5 1467.9 722.1C1469.9 721.8 1471.9 721.5 1473.9 721.2C1475.9 720.9 1477.9 720.6 1480.0 720.4C1482.0 720.1 1484.0 719.9 1486.0 719.7C1488.1 719.5 1490.1 719.4 1492.1 719.2C1494.2 719.1 1496.2 718.9 1498.2 718.8C1500.2 718.7 1502.3 718.6 1504.3 718.5C1506.4 718.5 1508.4 718.4 1510.4 718.4C1512.5 718.3 1514.5 718.3 1516.5 718.3C1518.6 718.3 1520.6 718.3 1522.7 718.4C1524.7 718.4 1526.7 718.4 1528.8 718.5C1530.8 718.6 1532.9 718.6 1534.9 718.7C1536.9 718.8 1539.0 718.9 1541.0 719.0C1543.1 719.1 1545.1 719.2 1547.1 719.3C1549.2 719.4 1551.2 719.6 1553.3 719.7C1555.3 719.9 1557.3 720.0 1559.4 720.2C1561.4 720.3 1563.5 720.5 1565.5 720.6C1567.5 720.8 1569.6 721.0 1571.6 721.2C1573.6 721.4 1575.7 721.5 1577.7 721.7C1579.7 721.9 1581.8 722.1 1583.8 722.3C1585.8 722.5 1587.9 722.7 1589.9 723.0C1591.9 723.2 1594.0 723.4 1596.0 723.6C1598.0 723.9 1600.1 724.1 1602.1 724.3C1604.1 724.6 1606.2 724.8 1608.2 725.0C1610.2 725.3 1612.3 725.5 1614.3 725.8C1616.3 726.1 1618.3 726.3 1620.4 726.6C1622.4 726.8 1624.4 727.1 1626.5 727.4C1628.5 727.6 1630.5 727.9 1632.5 728.2C1634.6 728.4 1636.6 728.7 1638.6 729.0C1640.7 729.3 1642.7 729.6 1644.7 729.8C1646.7 730.1 1648.8 730.4 1650.8 730.7C1652.8 731.0 1654.9 731.3 1656.9 731.6C1658.9 731.9 1660.9 732.1 1663.0 732.4C1665.0 732.7 1667.0 733.0 1669.0 733.3C1671.1 733.6 1673.1 733.9 1675.1 734.2C1677.1 734.5 1679.2 734.8 1681.2 735.1C1683.2 735.4 1685.3 735.7 1687.3 736.0C1689.3 736.3 1691.3 736.6 1693.4 736.8C1695.4 737.1 1697.4 737.4 1699.4 737.7C1701.5 738.0 1703.5 738.3 1705.5 738.6C1707.5 738.9 1709.6 739.2 1711.6 739.5C1713.6 739.7 1715.7 740.0 1717.7 740.3C1719.7 740.6 1721.7 740.9 1723.8 741.1C1725.8 741.4 1727.8 741.7 1729.9 742.0C1731.9 742.2 1733.9 742.5 1735.9 742.8C1738.0 743.0 1740.0 743.3 1742.0 743.5C1744.1 743.8 1746.1 744.0 1748.1 744.3C1750.2 744.5 1752.2 744.8 1754.2 745.0C1756.2 745.3 1758.3 745.5 1760.3 745.7C1762.3 746.0 1764.4 746.2 1766.4 746.4C1768.4 746.6 1770.5 746.9 1772.5 747.1C1774.5 747.3 1776.6 747.5 1778.6 747.7C1780.6 747.9 1782.7 748.1 1784.7 748.3C1786.7 748.5 1788.8 748.6 1790.8 748.8C1792.9 749.0 1794.9 749.2 1796.9 749.3C1799.0 749.5 1801.0 749.6 1803.0 749.8C1805.1 749.9 1807.1 750.1 1809.2 750.2C1811.2 750.3 1813.2 750.5 1815.3 750.6C1817.3 750.7 1819.4 750.8 1821.4 750.9C1823.5 751.0 1825.5 751.1 1827.5 751.2C1829.6 751.3 1831.6 751.3 1833.7 751.4C1835.7 751.5 1837.8 751.5 1839.8 751.6C1841.9 751.6 1843.9 751.6 1846.0 751.7C1848.0 751.7 1850.1 751.7 1852.1 751.7C1854.2 751.7 1856.2 751.7 1858.3 751.7C1860.3 751.7 1862.4 751.7 1864.4 751.6C1866.5 751.6 1869.6 751.5 1870.6 751.5"/>
<path class="crv" stroke-width="6.8" stroke="#008000" d="M347.0 642.0C347.4 641.1 348.7 638.3 349.6 636.5C350.4 634.7 351.3 632.8 352.1 631.0C352.9 629.1 353.8 627.3 354.6 625.4C355.4 623.6 356.2 621.7 357.0 619.9C357.8 618.0 358.6 616.2 359.4 614.3C360.2 612.4 360.9 610.6 361.7 608.7C362.5 606.8 363.3 605.0 364.0 603.1C364.8 601.2 365.6 599.3 366.3 597.5C367.1 595.6 367.8 593.7 368.6 591.8C369.3 590.0 370.1 588.1 370.8 586.2C371.6 584.3 372.3 582.5 373.1 580.6C373.8 578.7 374.5 576.8 375.3 574.9C376.0 573.1 376.8 571.2 377.5 569.3C378.2 567.4 379.0 565.5 379.7 563.7C380.5 561.8 381.2 559.9 382.0 558.0C382.7 556.2 383.4 554.3 384.2 552.4C384.9 550.5 385.7 548.7 386.4 546.8C387.2 544.9 388.0 543.1 388.7 541.2C389.5 539.3 390.3 537.5 391.0 535.6C391.8 533.7 392.6 531.9 393.4 530.0C394.1 528.2 394.9 526.3 395.7 524.5C396.5 522.6 397.3 520.8 398.1 518.9C398.9 517.1 399.7 515.2 400.6 513.4C401.4 511.5 402.2 509.7 403.1 507.9C403.9 506.1 404.7 504.2 405.6 502.4C406.5 500.6 407.3 498.8 408.2 497.0C409.1 495.2 410.0 493.3 410.9 491.5C411.8 489.7 412.7 488.0 413.6 486.2C414.5 484.4 415.5 482.6 416.4 480.8C417.4 479.0 418.3 477.3 419.3 475.5C420.3 473.7 421.3 472.0 422.3 470.2C423.3 468.5 424.3 466.7 425.3 465.0C426.4 463.2 427.4 461.5 428.5 459.8C429.6 458.0 430.6 456.3 431.7 454.6C432.8 452.9 433.9 451.2 435.1 449.5C436.2 447.8 437.4 446.1 438.5 444.5C439.7 442.8 440.9 441.2 442.1 439.5C443.3 437.9 444.6 436.2 445.8 434.6C447.1 433.0 448.4 431.4 449.7 429.8C451.0 428.2 452.3 426.7 453.6 425.1C455.0 423.5 456.4 422.0 457.8 420.5C459.2 419.0 460.6 417.5 462.1 416.0C463.5 414.6 465.0 413.2 466.6 412.0C468.1 410.7 469.7 409.5 471.4 408.5C473.0 407.5 474.8 406.6 476.5 405.8C478.3 405.1 480.2 404.6 482.0 404.2C483.9 403.8 485.9 403.5 487.8 403.4C489.8 403.3 491.8 403.3 493.8 403.5C495.8 403.6 497.8 403.9 499.8 404.2C501.8 404.6 503.8 405.0 505.8 405.6C507.8 406.1 509.7 406.7 511.7 407.4C513.6 408.1 515.4 408.9 517.3 409.7C519.1 410.5 520.9 411.4 522.7 412.4C524.5 413.3 526.2 414.3 527.9 415.4C529.6 416.4 531.3 417.5 532.9 418.7C534.6 419.8 536.2 421.0 537.8 422.3C539.4 423.5 540.9 424.8 542.5 426.1C544.0 427.4 545.6 428.8 547.1 430.2C548.6 431.5 550.0 432.9 551.5 434.4C552.9 435.8 554.4 437.3 555.8 438.7C557.2 440.2 558.6 441.7 560.0 443.2C561.4 444.7 562.8 446.2 564.2 447.7C565.5 449.3 566.9 450.8 568.2 452.3C569.5 453.9 570.9 455.4 572.2 457.0C573.5 458.5 574.8 460.1 576.1 461.6C577.4 463.2 578.7 464.7 580.0 466.3C581.2 467.9 582.5 469.5 583.8 471.0C585.0 472.6 586.3 474.2 587.5 475.8C588.7 477.4 590.0 479.0 591.2 480.6C592.4 482.2 593.6 483.8 594.9 485.4C596.1 487.0 597.3 488.6 598.5 490.3C599.7 491.9 600.9 493.5 602.0 495.1C603.2 496.7 604.4 498.4 605.6 500.0C606.8 501.6 607.9 503.3 609.1 504.9C610.3 506.5 611.4 508.2 612.6 509.8C613.7 511.4 614.9 513.1 616.1 514.7C617.2 516.4 618.4 518.0 619.5 519.7C620.7 521.3 621.8 523.0 622.9 524.6C624.1 526.3 625.2 527.9 626.4 529.6C627.5 531.2 628.7 532.9 629.8 534.5C631.0 536.2 632.1 537.8 633.2 539.5C634.4 541.1 635.5 542.8 636.7 544.4C637.8 546.1 639.0 547.7 640.1 549.4C641.3 551.0 642.4 552.7 643.6 554.3C644.8 556.0 645.9 557.6 647.1 559.3C648.2 560.9 649.4 562.6 650.6 564.2C651.8 565.9 652.9 567.5 654.1 569.1C655.3 570.8 656.5 572.4 657.7 574.0C658.9 575.7 660.1 577.3 661.3 578.9C662.5 580.6 663.7 582.2 664.9 583.8C666.1 585.4 667.3 587.1 668.6 588.7C669.8 590.3 671.0 591.9 672.3 593.5C673.5 595.1 674.8 596.7 676.0 598.3C677.3 599.9 678.5 601.5 679.8 603.1C681.1 604.7 682.3 606.2 683.6 607.8C684.9 609.4 686.2 611.0 687.5 612.5C688.8 614.1 690.1 615.6 691.4 617.2C692.7 618.7 694.0 620.3 695.4 621.8C696.7 623.3 698.0 624.9 699.4 626.4C700.7 627.9 702.1 629.4 703.4 630.9C704.8 632.4 706.2 633.9 707.5 635.4C708.9 636.9 710.3 638.4 711.7 639.8C713.1 641.3 714.5 642.8 715.9 644.2C717.3 645.7 718.7 647.1 720.2 648.5C721.6 650.0 723.0 651.4 724.5 652.8C725.9 654.2 727.4 655.6 728.9 657.0C730.3 658.4 731.8 659.7 733.3 661.1C734.8 662.5 736.3 663.8 737.8 665.2C739.3 666.5 740.8 667.8 742.4 669.1C743.9 670.5 745.4 671.8 747.0 673.0C748.5 674.3 750.1 675.6 751.7 676.9C753.2 678.1 754.8 679.4 756.4 680.6C758.0 681.9 759.6 683.1 761.2 684.3C762.9 685.5 764.5 686.7 766.1 687.9C767.8 689.0 769.4 690.2 771.1 691.3C772.7 692.5 774.4 693.6 776.1 694.7C777.8 695.9 779.5 697.0 781.2 698.0C782.9 699.1 784.6 700.2 786.3 701.2C788.1 702.3 789.8 703.3 791.6 704.4C793.3 705.4 795.1 706.4 796.8 707.4C798.6 708.3 800.4 709.3 802.1 710.3C803.9 711.2 805.7 712.2 807.5 713.1C809.3 714.0 811.1 714.9 813.0 715.8C814.8 716.7 816.6 717.5 818.4 718.4C820.3 719.2 822.1 720.0 824.0 720.9C825.8 721.7 827.7 722.5 829.6 723.2C831.4 724.0 833.3 724.8 835.2 725.5C837.1 726.2 838.9 726.9 840.8 727.6C842.7 728.3 844.6 729.0 846.5 729.7C848.4 730.3 850.4 731.0 852.3 731.6C854.2 732.2 856.1 732.8 858.1 733.4C860.0 733.9 861.9 734.5 863.9 735.0C865.8 735.6 867.8 736.1 869.7 736.6C871.7 737.1 873.6 737.5 875.6 738.0C877.6 738.4 879.5 738.9 881.5 739.3C883.5 739.7 885.4 740.1 887.4 740.4C889.4 740.8 891.4 741.1 893.4 741.5C895.4 741.8 897.4 742.1 899.3 742.4C901.3 742.6 903.3 742.9 905.3 743.1C907.3 743.3 909.3 743.5 911.4 743.7C913.4 743.9 915.4 744.1 917.4 744.2C919.4 744.3 921.4 744.4 923.4 744.5C925.4 744.6 927.5 744.7 929.5 744.7C931.5 744.8 933.5 744.8 935.5 744.8C937.6 744.8 940.6 744.7 941.6 744.7M927.6 744.7 L954.8 744.7M940.8 744.7C941.8 744.7 944.8 744.7 946.9 744.7C948.9 744.7 950.9 744.7 952.9 744.7C954.9 744.7 956.9 744.6 959.0 744.5C961.0 744.5 963.0 744.4 965.0 744.3C967.0 744.2 969.0 744.1 971.0 744.0C973.0 743.9 975.1 743.7 977.1 743.6C979.1 743.5 981.1 743.3 983.1 743.1C985.1 743.0 987.1 742.8 989.1 742.6C991.1 742.4 993.1 742.3 995.1 742.1C997.1 741.9 999.2 741.6 1001.2 741.4C1003.2 741.2 1005.2 741.0 1007.2 740.8C1009.2 740.5 1011.2 740.3 1013.2 740.1C1015.2 739.8 1017.2 739.6 1019.2 739.3C1021.2 739.1 1023.2 738.8 1025.2 738.5C1027.2 738.3 1029.2 738.0 1031.2 737.8C1033.2 737.5 1035.2 737.2 1037.2 736.9C1039.2 736.7 1041.2 736.4 1043.2 736.1C1045.2 735.9 1047.2 735.6 1049.2 735.3C1051.2 735.0 1053.2 734.7 1055.2 734.5C1057.3 734.2 1059.3 733.9 1061.3 733.6C1063.3 733.4 1065.3 733.1 1067.3 732.8C1069.3 732.6 1071.3 732.3 1073.3 732.0C1075.3 731.8 1077.3 731.5 1079.3 731.2C1081.3 731.0 1083.3 730.7 1085.3 730.5C1087.3 730.2 1089.3 730.0 1091.3 729.7C1093.3 729.5 1095.3 729.3 1097.4 729.1C1099.4 728.8 1101.4 728.6 1103.4 728.4C1105.4 728.2 1107.4 728.0 1109.4 727.8C1111.4 727.6 1113.4 727.4 1115.4 727.2C1117.5 727.0 1119.5 726.8 1121.5 726.6C1123.5 726.5 1125.5 726.3 1127.5 726.1C1129.5 726.0 1131.5 725.8 1133.6 725.7C1135.6 725.5 1137.6 725.4 1139.6 725.2C1141.6 725.1 1143.6 725.0 1145.6 724.8C1147.7 724.7 1149.7 724.6 1151.7 724.5C1153.7 724.4 1155.7 724.2 1157.7 724.1C1159.8 724.0 1161.8 723.9 1163.8 723.8C1165.8 723.8 1167.8 723.7 1169.8 723.6C1171.9 723.5 1173.9 723.4 1175.9 723.4C1177.9 723.3 1179.9 723.2 1181.9 723.2C1184.0 723.1 1186.0 723.1 1188.0 723.0C1190.0 723.0 1192.0 723.0 1194.0 722.9C1196.1 722.9 1198.1 722.9 1200.1 722.9C1202.1 722.8 1204.1 722.8 1206.2 722.8C1208.2 722.8 1210.2 722.8 1212.2 722.8C1214.2 722.8 1216.3 722.8 1218.3 722.8C1220.3 722.8 1222.3 722.9 1224.3 722.9C1226.3 722.9 1228.4 722.9 1230.4 723.0C1232.4 723.0 1234.4 723.1 1236.4 723.1C1238.5 723.2 1240.5 723.2 1242.5 723.3C1244.5 723.3 1246.5 723.4 1248.5 723.5C1250.6 723.5 1252.6 723.6 1254.6 723.7C1256.6 723.8 1258.6 723.9 1260.6 724.0C1262.7 724.0 1264.7 724.1 1266.7 724.2C1268.7 724.3 1270.7 724.4 1272.7 724.6C1274.8 724.7 1276.8 724.8 1278.8 724.9C1280.8 725.0 1282.8 725.1 1284.8 725.2C1286.9 725.4 1288.9 725.5 1290.9 725.6C1292.9 725.8 1294.9 725.9 1296.9 726.0C1299.0 726.2 1301.0 726.3 1303.0 726.5C1305.0 726.6 1307.0 726.8 1309.0 726.9C1311.0 727.1 1313.1 727.2 1315.1 727.4C1317.1 727.5 1319.1 727.7 1321.1 727.8C1323.1 728.0 1325.1 728.2 1327.1 728.3C1329.2 728.5 1331.2 728.7 1333.2 728.8C1335.2 729.0 1337.2 729.2 1339.2 729.4C1341.2 729.5 1343.2 729.7 1345.3 729.9C1347.3 730.1 1349.3 730.3 1351.3 730.5C1353.3 730.6 1355.3 730.8 1357.3 731.0C1359.3 731.2 1361.3 731.4 1363.4 731.6C1365.4 731.8 1367.4 732.0 1369.4 732.2C1371.4 732.4 1373.4 732.5 1375.4 732.7C1377.4 732.9 1379.4 733.1 1381.4 733.3C1383.4 733.5 1385.5 733.7 1387.5 733.9C1389.5 734.2 1391.5 734.4 1393.5 734.6C1395.5 734.8 1397.5 735.0 1399.5 735.2C1401.5 735.4 1403.5 735.6 1405.5 735.8C1407.5 736.0 1409.6 736.2 1411.6 736.4C1413.6 736.7 1415.6 736.9 1417.6 737.1C1419.6 737.3 1421.6 737.5 1423.6 737.7C1425.6 737.9 1427.6 738.2 1429.6 738.4C1431.6 738.6 1433.6 738.8 1435.7 739.0C1437.7 739.2 1439.7 739.5 1441.7 739.7C1443.7 739.9 1445.7 740.1 1447.7 740.3C1449.7 740.6 1451.7 740.8 1453.7 741.0C1455.7 741.2 1457.7 741.4 1459.7 741.7C1461.7 741.9 1463.8 742.1 1465.8 742.3C1467.8 742.5 1469.8 742.7 1471.8 743.0C1473.8 743.2 1475.8 743.4 1477.8 743.6C1479.8 743.8 1481.8 744.1 1483.8 744.3C1485.8 744.5 1487.8 744.7 1489.8 744.9C1491.8 745.2 1493.9 745.4 1495.9 745.6C1497.9 745.8 1499.9 746.0 1501.9 746.2C1503.9 746.5 1505.9 746.7 1507.9 746.9C1509.9 747.1 1511.9 747.3 1513.9 747.5C1515.9 747.7 1517.9 747.9 1519.9 748.2C1522.0 748.4 1524.0 748.6 1526.0 748.8C1528.0 749.0 1530.0 749.2 1532.0 749.4C1534.0 749.6 1536.0 749.8 1538.0 750.0C1540.0 750.2 1542.0 750.4 1544.0 750.6C1546.1 750.8 1548.1 751.0 1550.1 751.2C1552.1 751.4 1554.1 751.6 1556.1 751.8C1558.1 752.0 1560.1 752.2 1562.1 752.4C1564.1 752.6 1566.1 752.8 1568.2 753.0C1570.2 753.2 1572.2 753.4 1574.2 753.6C1576.2 753.7 1578.2 753.9 1580.2 754.1C1582.2 754.3 1584.2 754.5 1586.2 754.6C1588.3 754.8 1590.3 755.0 1592.3 755.2C1594.3 755.3 1596.3 755.5 1598.3 755.7C1600.3 755.9 1602.3 756.0 1604.3 756.2C1606.4 756.3 1608.4 756.5 1610.4 756.7C1612.4 756.8 1614.4 757.0 1616.4 757.2C1618.4 757.3 1620.5 757.5 1622.5 757.6C1624.5 757.8 1626.5 757.9 1628.5 758.1C1630.5 758.2 1632.5 758.4 1634.5 758.5C1636.6 758.6 1638.6 758.8 1640.6 758.9C1642.6 759.1 1644.6 759.2 1646.6 759.3C1648.6 759.5 1650.7 759.6 1652.7 759.7C1654.7 759.9 1656.7 760.0 1658.7 760.1C1660.7 760.3 1662.8 760.4 1664.8 760.5C1666.8 760.6 1668.8 760.8 1670.8 760.9C1672.8 761.0 1674.8 761.1 1676.9 761.2C1678.9 761.3 1680.9 761.5 1682.9 761.6C1684.9 761.7 1686.9 761.8 1689.0 761.9C1691.0 762.0 1693.0 762.1 1695.0 762.2C1697.0 762.3 1699.0 762.4 1701.1 762.5C1703.1 762.6 1705.1 762.7 1707.1 762.8C1709.1 762.9 1711.2 763.0 1713.2 763.1C1715.2 763.2 1717.2 763.2 1719.2 763.3C1721.2 763.4 1723.3 763.5 1725.3 763.6C1727.3 763.7 1729.3 763.7 1731.3 763.8C1733.3 763.9 1735.4 764.0 1737.4 764.0C1739.4 764.1 1741.4 764.2 1743.4 764.3C1745.5 764.3 1747.5 764.4 1749.5 764.5C1751.5 764.5 1753.5 764.6 1755.5 764.6C1757.6 764.7 1759.6 764.8 1761.6 764.8C1763.6 764.9 1765.6 764.9 1767.7 765.0C1769.7 765.0 1771.7 765.1 1773.7 765.1C1775.7 765.2 1777.7 765.2 1779.8 765.3C1781.8 765.3 1783.8 765.4 1785.8 765.4C1787.8 765.4 1789.9 765.5 1791.9 765.5C1793.9 765.6 1795.9 765.6 1797.9 765.6C1800.0 765.7 1802.0 765.7 1804.0 765.7C1806.0 765.7 1808.0 765.8 1810.0 765.8C1812.1 765.8 1814.1 765.8 1816.1 765.9C1818.1 765.9 1820.1 765.9 1822.2 765.9C1824.2 765.9 1826.2 765.9 1828.2 766.0C1830.2 766.0 1832.3 766.0 1834.3 766.0C1836.3 766.0 1838.3 766.0 1840.3 766.0C1842.3 766.0 1844.4 766.0 1846.4 766.0C1848.4 766.0 1850.4 766.0 1852.4 766.0C1854.5 766.0 1856.5 766.0 1858.5 766.0C1860.5 766.0 1862.5 766.0 1864.5 765.9C1866.6 765.9 1869.6 765.9 1870.6 765.9"/>
<line x1="604.8" y1="81.0" x2="486.3" y2="161.9" stroke="#262626" stroke-width="2.2"/><polygon points="459.0,180.5 484.2,151.8 494.9,167.5" fill="#000"/>
<line x1="788.6" y1="284.8" x2="671.9" y2="362.7" stroke="#262626" stroke-width="2.2"/><polygon points="644.5,381.0 670.0,352.6 680.5,368.4" fill="#000"/>
<line x1="775.2" y1="443.4" x2="656.8" y2="523.4" stroke="#262626" stroke-width="2.2"/><polygon points="629.5,541.9 654.8,513.3 665.5,529.0" fill="#000"/>
<text class="nb" x="619.5" y="102.4">2</text>
<text class="nb" x="805.5" y="305.7">1</text>
<text class="nr" x="795.5" y="478.0">3</text>
</g>
<text class="cap" y="1167.6"><tspan x="910.5">(</tspan><tspan x="938" font-weight="bold">a</tspan><tspan x="978">)</tspan></text>
<g id="chart-b">
<line x1="357.7" y1="2046.9" x2="1687.6" y2="2046.9" stroke="#e4e4e4" stroke-width="8"/>
<line x1="324.7" y1="2033.0" x2="355.7" y2="2033.0" stroke="#525252" stroke-width="3.8"/>
<text class="tk" x="305.2" y="2052.9" text-anchor="end">0</text>
<line x1="340.2" y1="1962.3" x2="355.7" y2="1962.3" stroke="#525252" stroke-width="3.4"/>
<line x1="324.7" y1="1891.6" x2="355.7" y2="1891.6" stroke="#525252" stroke-width="3.8"/>
<text class="tk" x="305.2" y="1911.5" text-anchor="end">1</text>
<line x1="340.2" y1="1820.9" x2="355.7" y2="1820.9" stroke="#525252" stroke-width="3.4"/>
<line x1="324.7" y1="1750.2" x2="355.7" y2="1750.2" stroke="#525252" stroke-width="3.8"/>
<text class="tk" x="305.2" y="1770.1" text-anchor="end">2</text>
<line x1="340.2" y1="1679.5" x2="355.7" y2="1679.5" stroke="#525252" stroke-width="3.4"/>
<line x1="324.7" y1="1608.8" x2="355.7" y2="1608.8" stroke="#525252" stroke-width="3.8"/>
<text class="tk" x="305.2" y="1628.7" text-anchor="end">3</text>
<line x1="340.2" y1="1538.1" x2="355.7" y2="1538.1" stroke="#525252" stroke-width="3.4"/>
<line x1="324.7" y1="1467.4" x2="355.7" y2="1467.4" stroke="#525252" stroke-width="3.8"/>
<text class="tk" x="305.2" y="1487.3" text-anchor="end">4</text>
<line x1="340.2" y1="1396.7" x2="355.7" y2="1396.7" stroke="#525252" stroke-width="3.4"/>
<line x1="324.7" y1="1326.0" x2="355.7" y2="1326.0" stroke="#525252" stroke-width="3.8"/>
<text class="tk" x="305.2" y="1345.9" text-anchor="end">5</text>
<line x1="489.9" y1="2046.9" x2="489.9" y2="2076.9" stroke="#525252" stroke-width="3.8"/>
<text class="tk" x="489.9" y="2145.0" text-anchor="middle">0.6</text>
<line x1="624.2" y1="2046.9" x2="624.2" y2="2061.9" stroke="#525252" stroke-width="3.4"/>
<line x1="758.6" y1="2046.9" x2="758.6" y2="2076.9" stroke="#525252" stroke-width="3.8"/>
<text class="tk" x="758.6" y="2145.0" text-anchor="middle">0.8</text>
<line x1="892.9" y1="2046.9" x2="892.9" y2="2061.9" stroke="#525252" stroke-width="3.4"/>
<line x1="1027.3" y1="2046.9" x2="1027.3" y2="2076.9" stroke="#525252" stroke-width="3.8"/>
<text class="tk" x="1027.3" y="2145.0" text-anchor="middle">1.0</text>
<line x1="1161.7" y1="2046.9" x2="1161.7" y2="2061.9" stroke="#525252" stroke-width="3.4"/>
<line x1="1296.0" y1="2046.9" x2="1296.0" y2="2076.9" stroke="#525252" stroke-width="3.8"/>
<text class="tk" x="1296.0" y="2145.0" text-anchor="middle">1.2</text>
<line x1="1430.3" y1="2046.9" x2="1430.3" y2="2061.9" stroke="#525252" stroke-width="3.4"/>
<line x1="1564.7" y1="2046.9" x2="1564.7" y2="2076.9" stroke="#525252" stroke-width="3.8"/>
<text class="tk" x="1564.7" y="2145.0" text-anchor="middle">1.4</text>
<line x1="355.7" y1="1324.2" x2="355.7" y2="2062.4" stroke="#5c5c5c" stroke-width="4.2"/>
<line x1="355.7" y1="2046.9" x2="1687.6" y2="2046.9" stroke="#767676" stroke-width="4"/>
<text class="ttl" style="font-size:76.7px" x="1228.5" y="2245.1"><tspan class="it">D</tspan>, nm</text>
<text class="ttl" style="font-size:76.7px" transform="translate(211.2 1969.2) rotate(-90)">d<tspan class="it">W</tspan><tspan class="ss" dy="23">0</tspan><tspan dy="-23">/d</tspan><tspan class="it">D</tspan>, cm<tspan class="ss" dy="-31">3</tspan><tspan dy="31">/nm/g</tspan></text>
<path class="crv" stroke-width="7.0" stroke="#ff0000" d="M489.7 2005.1C490.5 2004.5 493.0 2002.7 494.6 2001.6C496.2 2000.4 497.9 1999.2 499.5 1997.9C501.1 1996.7 502.7 1995.5 504.3 1994.3C505.9 1993.1 507.5 1991.8 509.1 1990.6C510.7 1989.3 512.3 1988.1 513.8 1986.8C515.4 1985.6 517.0 1984.3 518.6 1983.1C520.1 1981.8 521.7 1980.5 523.2 1979.3C524.8 1978.0 526.4 1976.7 527.9 1975.4C529.5 1974.1 531.0 1972.9 532.6 1971.6C534.1 1970.3 535.7 1969.0 537.2 1967.7C538.8 1966.4 540.3 1965.1 541.9 1963.8C543.4 1962.5 545.0 1961.2 546.5 1959.9C548.1 1958.6 549.6 1957.3 551.2 1956.1C552.7 1954.8 554.3 1953.5 555.8 1952.2C557.4 1950.9 559.0 1949.6 560.5 1948.3C562.1 1947.0 563.7 1945.8 565.2 1944.5C566.8 1943.2 568.4 1941.9 570.0 1940.7C571.5 1939.4 573.1 1938.1 574.7 1936.9C576.3 1935.6 577.9 1934.4 579.5 1933.1C581.1 1931.9 582.7 1930.6 584.3 1929.4C586.0 1928.2 587.6 1926.9 589.2 1925.7C590.9 1924.5 592.5 1923.3 594.2 1922.1C595.8 1921.0 597.5 1919.8 599.2 1918.7C600.8 1917.5 602.5 1916.4 604.2 1915.3C605.9 1914.2 607.6 1913.1 609.4 1912.1C611.1 1911.1 612.8 1910.0 614.6 1909.1C616.3 1908.1 618.1 1907.1 619.9 1906.2C621.6 1905.3 623.4 1904.5 625.3 1903.7C627.1 1902.8 628.9 1902.1 630.7 1901.3C632.6 1900.6 634.5 1899.9 636.3 1899.3C638.2 1898.7 640.1 1898.1 642.0 1897.5C644.0 1897.0 645.9 1896.6 647.9 1896.1C649.8 1895.7 651.8 1895.4 653.8 1895.1C655.8 1894.8 657.8 1894.5 659.8 1894.3C661.8 1894.1 663.8 1894.0 665.8 1893.9C667.9 1893.8 669.9 1893.7 672.0 1893.7C674.0 1893.7 676.0 1893.8 678.1 1893.8C680.1 1893.9 682.2 1894.1 684.2 1894.2C686.3 1894.4 688.3 1894.6 690.3 1894.9C692.4 1895.2 694.4 1895.5 696.4 1895.8C698.4 1896.1 700.4 1896.5 702.4 1896.9C704.4 1897.3 706.4 1897.8 708.4 1898.3C710.3 1898.8 712.3 1899.3 714.2 1899.8C716.2 1900.4 718.1 1901.0 720.0 1901.6C721.9 1902.2 723.8 1902.9 725.7 1903.5C727.6 1904.2 729.5 1904.9 731.3 1905.6C733.2 1906.4 735.0 1907.1 736.9 1907.9C738.7 1908.6 740.6 1909.4 742.4 1910.3C744.2 1911.1 746.0 1911.9 747.8 1912.7C749.6 1913.6 751.4 1914.5 753.2 1915.3C755.0 1916.2 756.8 1917.1 758.6 1918.0C760.4 1918.9 762.2 1919.9 764.0 1920.8C765.8 1921.7 767.5 1922.6 769.3 1923.6C771.1 1924.5 772.9 1925.5 774.6 1926.4C776.4 1927.4 778.2 1928.4 780.0 1929.3C781.7 1930.3 783.5 1931.2 785.3 1932.2C787.0 1933.2 788.8 1934.2 790.6 1935.1C792.4 1936.1 794.1 1937.1 795.9 1938.1C797.7 1939.0 799.4 1940.0 801.2 1941.0C803.0 1942.0 804.8 1943.0 806.5 1944.0C808.3 1945.0 810.1 1945.9 811.9 1946.9C813.6 1947.9 815.4 1948.9 817.2 1949.9C819.0 1950.9 820.7 1951.9 822.5 1952.9C824.3 1953.8 826.1 1954.8 827.8 1955.8C829.6 1956.8 831.4 1957.8 833.2 1958.8C834.9 1959.7 836.7 1960.7 838.5 1961.7C840.3 1962.7 842.1 1963.6 843.9 1964.6C845.6 1965.6 847.4 1966.5 849.2 1967.5C851.0 1968.5 852.8 1969.4 854.6 1970.4C856.4 1971.3 858.2 1972.3 860.0 1973.2C861.8 1974.2 863.6 1975.1 865.4 1976.0C867.2 1977.0 869.0 1977.9 870.8 1978.8C872.6 1979.7 874.4 1980.6 876.2 1981.6C878.0 1982.5 879.8 1983.4 881.6 1984.3C883.4 1985.2 885.2 1986.0 887.0 1986.9C888.9 1987.8 890.7 1988.7 892.5 1989.5C894.3 1990.4 896.2 1991.2 898.0 1992.1C899.8 1992.9 901.6 1993.8 903.5 1994.6C905.3 1995.4 907.2 1996.2 909.0 1997.0C910.8 1997.8 912.7 1998.6 914.5 1999.4C916.4 2000.2 918.2 2001.0 920.1 2001.7C921.9 2002.5 923.8 2003.2 925.7 2004.0C927.5 2004.7 929.4 2005.4 931.3 2006.1C933.1 2006.9 935.0 2007.6 936.9 2008.2C938.8 2008.9 940.7 2009.6 942.5 2010.3C944.4 2010.9 946.3 2011.6 948.2 2012.2C950.1 2012.8 952.0 2013.4 953.9 2014.0C955.8 2014.6 957.7 2015.2 959.7 2015.8C961.6 2016.4 963.5 2016.9 965.4 2017.4C967.3 2018.0 969.3 2018.5 971.2 2019.0C973.1 2019.5 975.1 2020.0 977.0 2020.5C979.0 2020.9 980.9 2021.4 982.9 2021.8C984.8 2022.3 986.8 2022.7 988.8 2023.1C990.7 2023.5 992.7 2023.9 994.7 2024.2C996.6 2024.6 998.6 2025.0 1000.6 2025.3C1002.6 2025.6 1004.6 2026.0 1006.6 2026.3C1008.5 2026.6 1010.5 2026.9 1012.5 2027.2C1014.5 2027.4 1016.5 2027.7 1018.5 2028.0C1020.5 2028.2 1022.5 2028.5 1024.6 2028.7C1026.6 2028.9 1028.6 2029.1 1030.6 2029.4C1032.6 2029.6 1034.6 2029.8 1036.6 2029.9C1038.7 2030.1 1040.7 2030.3 1042.7 2030.5C1044.7 2030.6 1046.8 2030.8 1048.8 2030.9C1050.8 2031.1 1052.8 2031.2 1054.9 2031.3C1056.9 2031.4 1058.9 2031.6 1061.0 2031.7C1063.0 2031.8 1065.0 2031.9 1067.1 2032.0C1069.1 2032.0 1071.1 2032.1 1073.2 2032.2C1075.2 2032.3 1077.2 2032.3 1079.3 2032.4C1081.3 2032.5 1083.3 2032.5 1085.4 2032.6C1087.4 2032.6 1089.4 2032.7 1091.5 2032.7C1093.5 2032.8 1095.5 2032.8 1097.6 2032.8C1099.6 2032.8 1101.6 2032.9 1103.7 2032.9C1105.7 2032.9 1107.7 2032.9 1109.8 2032.9C1111.8 2033.0 1113.8 2033.0 1115.8 2033.0C1117.9 2033.0 1119.9 2033.0 1121.9 2033.0C1123.9 2033.0 1125.9 2033.0 1128.0 2033.0C1130.0 2033.0 1133.0 2033.0 1134.0 2033.0M1120.0 2033.0 L1145.2 2033.0M1131.2 2033.0C1132.2 2033.0 1135.3 2033.0 1137.3 2033.0C1139.3 2033.0 1141.4 2033.0 1143.4 2033.0C1145.5 2033.0 1147.5 2032.9 1149.5 2032.9C1151.6 2032.9 1153.6 2032.9 1155.6 2032.8C1157.7 2032.8 1159.7 2032.8 1161.8 2032.7C1163.8 2032.7 1165.8 2032.7 1167.9 2032.6C1169.9 2032.6 1171.9 2032.5 1174.0 2032.5C1176.0 2032.4 1178.0 2032.4 1180.1 2032.3C1182.1 2032.3 1184.2 2032.2 1186.2 2032.2C1188.2 2032.1 1190.3 2032.1 1192.3 2032.0C1194.3 2031.9 1196.4 2031.9 1198.4 2031.8C1200.4 2031.7 1202.5 2031.7 1204.5 2031.6C1206.6 2031.5 1208.6 2031.5 1210.6 2031.4C1212.7 2031.3 1214.7 2031.3 1216.7 2031.2C1218.8 2031.1 1220.8 2031.0 1222.8 2030.9C1224.9 2030.9 1226.9 2030.8 1228.9 2030.7C1231.0 2030.6 1233.0 2030.6 1235.1 2030.5C1237.1 2030.4 1239.1 2030.3 1241.2 2030.2C1243.2 2030.1 1245.2 2030.1 1247.3 2030.0C1249.3 2029.9 1251.3 2029.8 1253.4 2029.7C1255.4 2029.6 1257.4 2029.5 1259.5 2029.5C1261.5 2029.4 1263.6 2029.3 1265.6 2029.2C1267.6 2029.1 1269.7 2029.0 1271.7 2028.9C1273.7 2028.9 1275.8 2028.8 1277.8 2028.7C1279.8 2028.6 1281.9 2028.5 1283.9 2028.4C1285.9 2028.3 1288.0 2028.3 1290.0 2028.2C1292.1 2028.1 1294.1 2028.0 1296.1 2027.9C1298.2 2027.8 1300.2 2027.8 1302.2 2027.7C1304.3 2027.6 1306.3 2027.5 1308.3 2027.5C1310.4 2027.4 1312.4 2027.3 1314.4 2027.2C1316.5 2027.1 1318.5 2027.1 1320.6 2027.0C1322.6 2026.9 1324.6 2026.9 1326.7 2026.8C1328.7 2026.7 1330.7 2026.7 1332.8 2026.6C1334.8 2026.5 1336.8 2026.5 1338.9 2026.4C1340.9 2026.3 1343.0 2026.3 1345.0 2026.2C1347.0 2026.2 1349.1 2026.1 1351.1 2026.0C1353.1 2026.0 1355.2 2025.9 1357.2 2025.9C1359.2 2025.8 1361.3 2025.8 1363.3 2025.7C1365.3 2025.7 1367.4 2025.6 1369.4 2025.6C1371.5 2025.5 1373.5 2025.5 1375.5 2025.5C1377.6 2025.4 1379.6 2025.4 1381.6 2025.3C1383.7 2025.3 1385.7 2025.3 1387.7 2025.2C1389.8 2025.2 1391.8 2025.1 1393.9 2025.1C1395.9 2025.1 1397.9 2025.0 1400.0 2025.0C1402.0 2025.0 1404.0 2025.0 1406.1 2024.9C1408.1 2024.9 1410.2 2024.9 1412.2 2024.8C1414.2 2024.8 1416.3 2024.8 1418.3 2024.8C1420.3 2024.7 1422.4 2024.7 1424.4 2024.7C1426.4 2024.7 1428.5 2024.7 1430.5 2024.6C1432.6 2024.6 1434.6 2024.6 1436.6 2024.6C1438.7 2024.6 1440.7 2024.6 1442.7 2024.6C1444.8 2024.5 1446.8 2024.5 1448.8 2024.5C1450.9 2024.5 1452.9 2024.5 1455.0 2024.5C1457.0 2024.5 1459.0 2024.5 1461.1 2024.5C1463.1 2024.5 1465.1 2024.5 1467.2 2024.5C1469.2 2024.5 1471.3 2024.5 1473.3 2024.5C1475.3 2024.5 1477.4 2024.5 1479.4 2024.5C1481.4 2024.5 1483.5 2024.5 1485.5 2024.5C1487.6 2024.5 1489.6 2024.5 1491.6 2024.5C1493.7 2024.5 1495.7 2024.5 1497.7 2024.5C1499.8 2024.5 1501.8 2024.5 1503.8 2024.5C1505.9 2024.5 1507.9 2024.5 1510.0 2024.5C1512.0 2024.6 1514.0 2024.6 1516.1 2024.6C1518.1 2024.6 1520.1 2024.6 1522.2 2024.6C1524.2 2024.6 1526.3 2024.7 1528.3 2024.7C1530.3 2024.7 1532.4 2024.7 1534.4 2024.7C1536.4 2024.7 1538.5 2024.8 1540.5 2024.8C1542.6 2024.8 1544.6 2024.8 1546.6 2024.8C1548.7 2024.9 1550.7 2024.9 1552.7 2024.9C1554.8 2024.9 1556.8 2025.0 1558.9 2025.0C1560.9 2025.0 1562.9 2025.0 1565.0 2025.1C1567.0 2025.1 1569.0 2025.1 1571.1 2025.1C1573.1 2025.2 1575.1 2025.2 1577.2 2025.2C1579.2 2025.3 1581.3 2025.3 1583.3 2025.3C1585.3 2025.4 1587.4 2025.4 1589.4 2025.4C1591.4 2025.4 1593.5 2025.5 1595.5 2025.5C1597.6 2025.5 1599.6 2025.6 1601.6 2025.6C1603.7 2025.6 1605.7 2025.7 1607.7 2025.7C1609.8 2025.7 1611.8 2025.8 1613.9 2025.8C1615.9 2025.9 1617.9 2025.9 1620.0 2025.9C1622.0 2026.0 1624.0 2026.0 1626.1 2026.0C1628.1 2026.1 1630.2 2026.1 1632.2 2026.2C1634.2 2026.2 1636.3 2026.2 1638.3 2026.3C1640.3 2026.3 1642.4 2026.4 1644.4 2026.4C1646.5 2026.4 1648.5 2026.5 1650.5 2026.5C1652.6 2026.6 1654.6 2026.6 1656.6 2026.6C1658.7 2026.7 1660.7 2026.7 1662.8 2026.8C1664.8 2026.8 1666.8 2026.9 1668.9 2026.9C1670.9 2026.9 1672.9 2027.0 1675.0 2027.0C1677.0 2027.1 1679.1 2027.1 1681.1 2027.2C1683.1 2027.2 1686.2 2027.3 1687.2 2027.3"/>
<path class="crv" stroke-width="6.5" stroke="#ff7a00" d="M520.2 2032.5 L565.5 2032.5M551.5 2032.5C552.5 2032.5 555.5 2032.4 557.5 2032.4C559.5 2032.5 561.7 2032.8 563.7 2032.7C565.6 2032.5 567.5 2032.2 569.2 2031.5C570.9 2030.9 572.4 2029.9 573.9 2028.7C575.3 2027.5 576.6 2026.1 577.8 2024.6C579.1 2023.0 580.2 2021.3 581.2 2019.5C582.3 2017.8 583.2 2015.9 584.2 2014.0C585.1 2012.2 586.0 2010.3 586.9 2008.4C587.7 2006.5 588.5 2004.7 589.3 2002.8C590.1 2000.9 590.8 1999.0 591.5 1997.0C592.2 1995.1 592.8 1993.2 593.5 1991.3C594.1 1989.4 594.7 1987.4 595.3 1985.5C595.8 1983.5 596.4 1981.6 596.9 1979.7C597.4 1977.7 597.9 1975.8 598.4 1973.8C598.8 1971.8 599.3 1969.9 599.7 1967.9C600.1 1965.9 600.5 1964.0 600.9 1962.0C601.3 1960.0 601.7 1958.0 602.0 1956.1C602.4 1954.1 602.7 1952.1 603.1 1950.1C603.4 1948.1 603.7 1946.1 604.0 1944.2C604.4 1942.2 604.7 1940.2 605.0 1938.2C605.3 1936.2 605.6 1934.2 605.9 1932.2C606.2 1930.2 606.5 1928.2 606.8 1926.2C607.1 1924.2 607.4 1922.2 607.7 1920.2C608.1 1918.2 608.4 1916.3 608.7 1914.3C609.0 1912.3 609.3 1910.3 609.6 1908.3C610.0 1906.3 610.3 1904.3 610.6 1902.3C611.0 1900.3 611.3 1898.3 611.6 1896.3C612.0 1894.3 612.3 1892.4 612.6 1890.4C613.0 1888.4 613.3 1886.4 613.6 1884.4C614.0 1882.4 614.3 1880.4 614.7 1878.4C615.0 1876.4 615.4 1874.4 615.7 1872.5C616.1 1870.5 616.4 1868.5 616.8 1866.5C617.1 1864.5 617.5 1862.5 617.8 1860.5C618.2 1858.5 618.5 1856.5 618.9 1854.5C619.3 1852.6 619.6 1850.6 620.0 1848.6C620.3 1846.6 620.7 1844.6 621.1 1842.6C621.4 1840.6 621.8 1838.6 622.2 1836.7C622.5 1834.7 622.9 1832.7 623.3 1830.7C623.6 1828.7 624.0 1826.7 624.4 1824.7C624.7 1822.7 625.1 1820.8 625.5 1818.8C625.9 1816.8 626.2 1814.8 626.6 1812.8C627.0 1810.8 627.3 1808.8 627.7 1806.9C628.1 1804.9 628.5 1802.9 628.8 1800.9C629.2 1798.9 629.6 1796.9 630.0 1794.9C630.3 1793.0 630.7 1791.0 631.1 1789.0C631.5 1787.0 631.8 1785.0 632.2 1783.0C632.6 1781.1 633.0 1779.1 633.3 1777.1C633.7 1775.1 634.1 1773.1 634.5 1771.1C634.8 1769.2 635.2 1767.2 635.6 1765.2C636.0 1763.2 636.3 1761.2 636.7 1759.2C637.1 1757.3 637.5 1755.3 637.8 1753.3C638.2 1751.3 638.6 1749.3 639.0 1747.3C639.3 1745.4 639.7 1743.4 640.1 1741.4C640.4 1739.4 640.8 1737.4 641.2 1735.5C641.5 1733.5 641.9 1731.5 642.3 1729.5C642.6 1727.5 643.0 1725.5 643.4 1723.6C643.7 1721.6 644.1 1719.6 644.5 1717.6C644.8 1715.6 645.2 1713.7 645.5 1711.7C645.9 1709.7 646.3 1707.7 646.6 1705.7C647.0 1703.8 647.3 1701.8 647.7 1699.8C648.0 1697.8 648.4 1695.8 648.7 1693.9C649.1 1691.9 649.4 1689.9 649.8 1687.9C650.1 1685.9 650.5 1684.0 650.8 1682.0C651.2 1680.0 651.5 1678.0 651.9 1676.0C652.2 1674.1 652.6 1672.1 652.9 1670.1C653.3 1668.1 653.6 1666.2 654.0 1664.2C654.4 1662.2 654.7 1660.2 655.1 1658.3C655.5 1656.3 655.8 1654.3 656.2 1652.3C656.6 1650.4 657.0 1648.4 657.4 1646.4C657.8 1644.5 658.2 1642.5 658.6 1640.5C659.0 1638.6 659.5 1636.6 659.9 1634.6C660.3 1632.7 660.8 1630.7 661.2 1628.7C661.7 1626.8 662.1 1624.8 662.6 1622.9C663.1 1620.9 663.6 1618.9 664.1 1617.0C664.6 1615.0 665.1 1613.1 665.7 1611.1C666.2 1609.2 666.7 1607.2 667.3 1605.3C667.9 1603.3 668.4 1601.4 669.0 1599.4C669.6 1597.5 670.2 1595.6 670.9 1593.6C671.5 1591.7 672.1 1589.7 672.8 1587.8C673.5 1585.9 674.1 1583.9 674.9 1582.0C675.6 1580.1 676.3 1578.1 677.0 1576.2C677.8 1574.3 678.5 1572.4 679.3 1570.4C680.1 1568.5 680.9 1566.6 681.8 1564.7C682.6 1562.8 683.4 1560.8 684.4 1559.0C685.3 1557.2 686.3 1555.3 687.4 1553.7C688.5 1552.1 689.7 1550.6 691.1 1549.4C692.5 1548.2 694.0 1547.2 695.8 1546.6C697.5 1546.0 699.6 1545.6 701.5 1545.9C703.4 1546.1 705.3 1547.1 706.9 1548.1C708.6 1549.1 710.1 1550.5 711.4 1551.9C712.8 1553.3 714.1 1554.8 715.3 1556.4C716.4 1558.0 717.5 1559.7 718.4 1561.5C719.4 1563.2 720.3 1565.1 721.1 1566.9C722.0 1568.8 722.7 1570.8 723.5 1572.7C724.2 1574.7 724.8 1576.6 725.5 1578.6C726.1 1580.6 726.7 1582.6 727.3 1584.6C728.0 1586.6 728.5 1588.5 729.1 1590.5C729.7 1592.5 730.3 1594.4 730.8 1596.4C731.4 1598.3 731.9 1600.2 732.4 1602.2C733.0 1604.1 733.5 1606.1 734.0 1608.0C734.5 1609.9 735.0 1611.9 735.5 1613.8C736.0 1615.7 736.5 1617.7 737.0 1619.6C737.4 1621.5 737.9 1623.5 738.4 1625.4C738.8 1627.4 739.3 1629.3 739.8 1631.3C740.2 1633.2 740.6 1635.2 741.1 1637.1C741.5 1639.1 742.0 1641.0 742.4 1643.0C742.8 1644.9 743.2 1646.9 743.7 1648.9C744.1 1650.8 744.5 1652.8 744.9 1654.7C745.3 1656.7 745.7 1658.7 746.1 1660.6C746.5 1662.6 746.9 1664.6 747.3 1666.6C747.7 1668.5 748.1 1670.5 748.4 1672.5C748.8 1674.5 749.2 1676.4 749.6 1678.4C750.0 1680.4 750.3 1682.4 750.7 1684.4C751.1 1686.3 751.4 1688.3 751.8 1690.3C752.1 1692.3 752.5 1694.3 752.8 1696.3C753.2 1698.3 753.6 1700.3 753.9 1702.2C754.3 1704.2 754.6 1706.2 754.9 1708.2C755.3 1710.2 755.6 1712.2 756.0 1714.2C756.3 1716.2 756.7 1718.2 757.0 1720.2C757.3 1722.2 757.7 1724.2 758.0 1726.2C758.4 1728.1 758.7 1730.1 759.0 1732.1C759.4 1734.1 759.7 1736.1 760.0 1738.1C760.4 1740.1 760.7 1742.1 761.0 1744.1C761.4 1746.1 761.7 1748.1 762.0 1750.1C762.4 1752.1 762.7 1754.1 763.0 1756.1C763.4 1758.1 763.7 1760.1 764.0 1762.1C764.4 1764.1 764.7 1766.1 765.1 1768.1C765.4 1770.1 765.7 1772.1 766.1 1774.0C766.4 1776.0 766.8 1778.0 767.1 1780.0C767.4 1782.0 767.8 1784.0 768.1 1786.0C768.5 1788.0 768.8 1790.0 769.2 1792.0C769.6 1794.0 769.9 1795.9 770.3 1797.9C770.6 1799.9 771.0 1801.9 771.4 1803.9C771.7 1805.9 772.1 1807.9 772.5 1809.8C772.8 1811.8 773.2 1813.8 773.6 1815.8C774.0 1817.8 774.4 1819.7 774.7 1821.7C775.1 1823.7 775.5 1825.7 775.9 1827.6C776.3 1829.6 776.7 1831.6 777.1 1833.6C777.5 1835.5 777.9 1837.5 778.3 1839.5C778.7 1841.4 779.2 1843.4 779.6 1845.4C780.0 1847.3 780.4 1849.3 780.8 1851.3C781.2 1853.2 781.7 1855.2 782.1 1857.2C782.5 1859.1 782.9 1861.1 783.4 1863.1C783.8 1865.0 784.2 1867.0 784.7 1869.0C785.1 1870.9 785.6 1872.9 786.0 1874.8C786.4 1876.8 786.9 1878.8 787.3 1880.7C787.8 1882.7 788.2 1884.7 788.7 1886.6C789.1 1888.6 789.6 1890.6 790.0 1892.5C790.5 1894.5 790.9 1896.4 791.4 1898.4C791.8 1900.4 792.3 1902.3 792.8 1904.3C793.2 1906.3 793.7 1908.2 794.1 1910.2C794.6 1912.2 795.1 1914.1 795.5 1916.1C796.0 1918.1 796.5 1920.0 796.9 1922.0C797.4 1924.0 797.9 1925.9 798.4 1927.9C798.9 1929.9 799.4 1931.8 799.9 1933.8C800.4 1935.7 800.9 1937.7 801.4 1939.6C801.9 1941.6 802.5 1943.5 803.0 1945.5C803.6 1947.4 804.2 1949.4 804.8 1951.3C805.4 1953.2 806.0 1955.1 806.6 1957.1C807.2 1959.0 807.9 1960.9 808.6 1962.8C809.3 1964.7 810.0 1966.5 810.7 1968.4C811.4 1970.3 812.2 1972.2 813.0 1974.0C813.8 1975.9 814.6 1977.7 815.5 1979.5C816.4 1981.4 817.2 1983.2 818.2 1985.0C819.1 1986.8 820.1 1988.6 821.1 1990.3C822.1 1992.1 823.1 1993.9 824.2 1995.6C825.3 1997.3 826.4 1999.1 827.6 2000.7C828.8 2002.4 830.0 2004.1 831.3 2005.8C832.5 2007.4 833.9 2009.0 835.2 2010.6C836.6 2012.1 838.0 2013.6 839.4 2015.1C840.8 2016.5 842.3 2017.9 843.8 2019.2C845.4 2020.5 846.9 2021.8 848.6 2022.9C850.2 2024.1 851.8 2025.1 853.5 2026.1C855.2 2027.1 857.0 2027.9 858.8 2028.7C860.6 2029.5 862.4 2030.1 864.3 2030.6C866.2 2031.1 868.1 2031.5 870.0 2031.8C872.0 2032.1 874.0 2032.3 876.0 2032.4C878.0 2032.5 880.1 2032.5 882.1 2032.5C884.1 2032.5 886.2 2032.5 888.2 2032.5C890.2 2032.5 893.2 2032.5 894.2 2032.5M880.2 2032.5 L1040.0 2032.5M1026.0 2032.5C1027.0 2032.5 1030.1 2032.5 1032.1 2032.5C1034.1 2032.5 1036.2 2032.6 1038.2 2032.5C1040.2 2032.5 1042.3 2032.3 1044.2 2032.0C1046.2 2031.7 1048.1 2031.3 1050.1 2030.8C1052.0 2030.2 1053.9 2029.5 1055.7 2028.8C1057.6 2028.0 1059.4 2027.1 1061.3 2026.1C1063.1 2025.1 1064.9 2024.0 1066.7 2022.9C1068.5 2021.8 1070.2 2020.7 1072.0 2019.5C1073.8 2018.4 1075.6 2017.2 1077.4 2016.1C1079.2 2015.0 1081.0 2014.0 1082.9 2013.0C1084.7 2012.0 1086.6 2011.0 1088.4 2010.2C1090.3 2009.4 1092.2 2008.6 1094.1 2007.9C1096.0 2007.2 1097.9 2006.6 1099.9 2006.1C1101.8 2005.6 1103.7 2005.1 1105.7 2004.7C1107.7 2004.3 1109.6 2004.0 1111.6 2003.7C1113.6 2003.4 1115.6 2003.1 1117.6 2002.9C1119.6 2002.7 1121.6 2002.5 1123.6 2002.4C1125.6 2002.3 1127.6 2002.2 1129.7 2002.1C1131.7 2002.0 1133.7 2001.9 1135.8 2001.8C1137.8 2001.8 1139.8 2001.7 1141.9 2001.7C1143.9 2001.6 1146.0 2001.6 1148.0 2001.5C1150.1 2001.5 1152.1 2001.4 1154.2 2001.3C1156.2 2001.2 1158.2 2001.1 1160.3 2001.0C1162.3 2000.8 1164.4 2000.7 1166.4 2000.5C1168.5 2000.3 1170.5 2000.0 1172.5 1999.7C1174.6 1999.4 1176.6 1999.1 1178.6 1998.7C1180.6 1998.4 1182.7 1998.0 1184.7 1997.6C1186.7 1997.2 1188.7 1996.8 1190.7 1996.3C1192.7 1995.9 1194.7 1995.4 1196.7 1995.0C1198.8 1994.5 1200.8 1994.1 1202.8 1993.6C1204.8 1993.1 1206.8 1992.7 1208.8 1992.2C1210.8 1991.8 1212.8 1991.3 1214.8 1990.9C1216.8 1990.5 1218.8 1990.1 1220.8 1989.7C1222.8 1989.3 1224.8 1989.0 1226.8 1988.6C1228.8 1988.3 1230.8 1988.0 1232.8 1987.8C1234.7 1987.5 1236.7 1987.3 1238.7 1987.2C1240.7 1987.0 1242.7 1986.9 1244.7 1986.8C1246.7 1986.7 1248.7 1986.7 1250.7 1986.7C1252.7 1986.8 1254.7 1986.8 1256.7 1986.9C1258.8 1987.0 1260.8 1987.2 1262.8 1987.3C1264.8 1987.5 1266.8 1987.7 1268.8 1987.9C1270.8 1988.1 1272.8 1988.4 1274.8 1988.6C1276.8 1988.9 1278.8 1989.2 1280.8 1989.5C1282.8 1989.8 1284.9 1990.1 1286.9 1990.4C1288.9 1990.7 1290.9 1991.0 1292.9 1991.4C1294.9 1991.7 1297.0 1992.1 1299.0 1992.4C1301.0 1992.7 1303.0 1993.1 1305.0 1993.4C1307.1 1993.7 1309.1 1994.1 1311.1 1994.4C1313.1 1994.7 1315.2 1995.0 1317.2 1995.3C1319.2 1995.6 1321.2 1995.8 1323.3 1996.1C1325.3 1996.3 1327.3 1996.6 1329.4 1996.8C1331.4 1997.0 1333.4 1997.1 1335.5 1997.3C1337.5 1997.5 1339.5 1997.6 1341.6 1997.7C1343.6 1997.8 1345.6 1998.0 1347.7 1998.1C1349.7 1998.2 1351.8 1998.3 1353.8 1998.3C1355.8 1998.4 1357.9 1998.5 1359.9 1998.6C1361.9 1998.7 1364.0 1998.7 1366.0 1998.8C1368.0 1998.9 1370.1 1999.0 1372.1 1999.1C1374.1 1999.2 1376.2 1999.2 1378.2 1999.4C1380.2 1999.5 1382.3 1999.6 1384.3 1999.7C1386.3 1999.8 1388.3 2000.0 1390.4 2000.1C1392.4 2000.3 1394.4 2000.5 1396.4 2000.7C1398.4 2000.9 1400.4 2001.1 1402.4 2001.3C1404.4 2001.6 1406.5 2001.9 1408.5 2002.2C1410.5 2002.5 1412.4 2002.8 1414.4 2003.2C1416.4 2003.6 1418.4 2004.0 1420.4 2004.4C1422.4 2004.8 1424.4 2005.3 1426.3 2005.8C1428.3 2006.3 1430.3 2006.8 1432.3 2007.3C1434.3 2007.9 1436.2 2008.4 1438.2 2009.0C1440.2 2009.5 1442.1 2010.1 1444.1 2010.6C1446.1 2011.2 1448.1 2011.7 1450.0 2012.3C1452.0 2012.8 1454.0 2013.3 1456.0 2013.9C1457.9 2014.4 1459.9 2014.9 1461.9 2015.3C1463.9 2015.8 1465.9 2016.2 1467.9 2016.6C1469.9 2017.0 1471.9 2017.4 1473.9 2017.8C1475.9 2018.2 1477.9 2018.5 1479.9 2018.8C1481.9 2019.1 1483.9 2019.4 1485.9 2019.7C1487.9 2020.0 1489.9 2020.2 1491.9 2020.5C1494.0 2020.7 1496.0 2020.9 1498.0 2021.1C1500.0 2021.3 1502.0 2021.5 1504.1 2021.7C1506.1 2021.9 1508.1 2022.0 1510.1 2022.2C1512.2 2022.3 1514.2 2022.4 1516.2 2022.6C1518.2 2022.7 1520.3 2022.8 1522.3 2022.9C1524.3 2023.0 1526.4 2023.1 1528.4 2023.2C1530.4 2023.3 1532.5 2023.3 1534.5 2023.4C1536.5 2023.5 1538.6 2023.5 1540.6 2023.6C1542.6 2023.6 1544.7 2023.7 1546.7 2023.7C1548.7 2023.7 1550.8 2023.8 1552.8 2023.8C1554.8 2023.8 1556.9 2023.8 1558.9 2023.9C1560.9 2023.9 1563.0 2023.9 1565.0 2023.9C1567.0 2023.9 1569.1 2023.9 1571.1 2023.9C1573.2 2023.8 1575.2 2023.8 1577.2 2023.8C1579.3 2023.8 1581.3 2023.8 1583.4 2023.8C1585.4 2023.7 1587.4 2023.7 1589.5 2023.7C1591.5 2023.6 1593.5 2023.6 1595.6 2023.6C1597.6 2023.5 1599.7 2023.5 1601.7 2023.4C1603.7 2023.4 1605.8 2023.4 1607.8 2023.3C1609.9 2023.3 1611.9 2023.2 1613.9 2023.2C1616.0 2023.1 1618.0 2023.1 1620.0 2023.0C1622.1 2023.0 1624.1 2022.9 1626.2 2022.9C1628.2 2022.8 1630.2 2022.8 1632.3 2022.7C1634.3 2022.7 1636.3 2022.6 1638.4 2022.6C1640.4 2022.6 1642.5 2022.5 1644.5 2022.5C1646.5 2022.4 1648.6 2022.4 1650.6 2022.4C1652.6 2022.3 1654.7 2022.3 1656.7 2022.3C1658.7 2022.2 1660.8 2022.2 1662.8 2022.2C1664.8 2022.1 1666.9 2022.1 1668.9 2022.1C1670.9 2022.1 1673.0 2022.1 1675.0 2022.1C1677.0 2022.1 1679.1 2022.1 1681.1 2022.1C1683.1 2022.1 1686.2 2022.1 1687.2 2022.1"/>
<path class="crv" stroke-width="6.5" stroke="#d42bff" d="M415.5 2034.0C415.6 2033.0 415.7 2030.0 415.8 2028.0C415.9 2026.0 416.0 2023.9 416.2 2021.9C416.3 2019.9 416.4 2017.9 416.5 2015.9C416.6 2013.9 416.7 2011.9 416.8 2009.9C417.0 2007.9 417.1 2005.9 417.2 2003.8C417.3 2001.8 417.4 1999.8 417.6 1997.8C417.7 1995.8 417.8 1993.8 417.9 1991.8C418.0 1989.8 418.2 1987.8 418.3 1985.8C418.4 1983.8 418.5 1981.8 418.7 1979.8C418.8 1977.8 418.9 1975.7 419.1 1973.7C419.2 1971.7 419.3 1969.7 419.4 1967.7C419.6 1965.7 419.7 1963.7 419.8 1961.7C420.0 1959.7 420.1 1957.7 420.2 1955.7C420.4 1953.7 420.5 1951.7 420.6 1949.7C420.8 1947.7 420.9 1945.7 421.1 1943.7C421.2 1941.7 421.3 1939.7 421.5 1937.6C421.6 1935.6 421.7 1933.6 421.9 1931.6C422.0 1929.6 422.2 1927.6 422.3 1925.6C422.4 1923.6 422.6 1921.6 422.7 1919.6C422.9 1917.6 423.0 1915.6 423.2 1913.6C423.3 1911.6 423.4 1909.6 423.6 1907.6C423.7 1905.6 423.9 1903.6 424.0 1901.6C424.2 1899.6 424.3 1897.6 424.5 1895.6C424.6 1893.6 424.8 1891.6 424.9 1889.6C425.0 1887.6 425.2 1885.6 425.3 1883.6C425.5 1881.5 425.6 1879.5 425.8 1877.5C425.9 1875.5 426.1 1873.5 426.2 1871.5C426.4 1869.5 426.5 1867.5 426.7 1865.5C426.8 1863.5 427.0 1861.5 427.1 1859.5C427.3 1857.5 427.4 1855.5 427.6 1853.5C427.7 1851.5 427.9 1849.5 428.0 1847.5C428.2 1845.5 428.3 1843.5 428.5 1841.5C428.6 1839.5 428.7 1837.5 428.9 1835.5C429.0 1833.5 429.2 1831.5 429.3 1829.5C429.5 1827.5 429.6 1825.5 429.8 1823.4C429.9 1821.4 430.1 1819.4 430.2 1817.4C430.4 1815.4 430.5 1813.4 430.7 1811.4C430.8 1809.4 431.0 1807.4 431.1 1805.4C431.3 1803.4 431.4 1801.4 431.6 1799.4C431.7 1797.4 431.8 1795.4 432.0 1793.4C432.1 1791.4 432.3 1789.4 432.4 1787.3C432.6 1785.3 432.7 1783.3 432.9 1781.3C433.0 1779.3 433.1 1777.3 433.3 1775.3C433.4 1773.3 433.6 1771.3 433.7 1769.3C433.9 1767.3 434.0 1765.3 434.1 1763.3C434.3 1761.3 434.4 1759.2 434.6 1757.2C434.7 1755.2 434.9 1753.2 435.0 1751.2C435.1 1749.2 435.3 1747.2 435.4 1745.2C435.6 1743.2 435.7 1741.2 435.8 1739.2C436.0 1737.1 436.1 1735.1 436.3 1733.1C436.4 1731.1 436.6 1729.1 436.7 1727.1C436.8 1725.1 437.0 1723.1 437.1 1721.1C437.3 1719.1 437.4 1717.1 437.6 1715.0C437.7 1713.0 437.8 1711.0 438.0 1709.0C438.1 1707.0 438.3 1705.0 438.4 1703.0C438.6 1701.0 438.7 1699.0 438.9 1697.0C439.0 1695.0 439.2 1693.0 439.3 1691.0C439.5 1688.9 439.6 1686.9 439.8 1684.9C440.0 1682.9 440.1 1680.9 440.3 1678.9C440.4 1676.9 440.6 1674.9 440.7 1672.9C440.9 1670.9 441.1 1668.9 441.2 1666.9C441.4 1664.9 441.6 1662.9 441.7 1660.9C441.9 1658.9 442.1 1656.9 442.2 1654.9C442.4 1652.9 442.6 1650.9 442.7 1648.9C442.9 1646.9 443.1 1644.9 443.3 1642.9C443.5 1640.9 443.6 1638.9 443.8 1636.9C444.0 1634.9 444.2 1632.9 444.4 1630.9C444.6 1628.9 444.7 1626.9 444.9 1624.9C445.1 1622.9 445.3 1620.9 445.5 1618.9C445.7 1616.9 445.9 1614.9 446.1 1612.9C446.3 1610.9 446.5 1608.9 446.7 1606.9C446.9 1604.9 447.2 1602.9 447.4 1600.9C447.6 1599.0 447.8 1597.0 448.0 1595.0C448.2 1593.0 448.5 1591.0 448.7 1589.0C448.9 1587.0 449.1 1585.0 449.4 1583.1C449.6 1581.1 449.8 1579.1 450.1 1577.1C450.3 1575.1 450.5 1573.1 450.8 1571.2C451.0 1569.2 451.3 1567.2 451.5 1565.2C451.8 1563.2 452.1 1561.2 452.3 1559.3C452.6 1557.3 452.8 1555.3 453.1 1553.3C453.4 1551.3 453.7 1549.3 454.0 1547.3C454.3 1545.4 454.6 1543.4 454.9 1541.4C455.2 1539.4 455.5 1537.4 455.8 1535.4C456.1 1533.4 456.4 1531.4 456.7 1529.4C457.1 1527.4 457.4 1525.4 457.8 1523.4C458.1 1521.4 458.5 1519.3 458.8 1517.3C459.2 1515.3 459.6 1513.3 460.0 1511.2C460.4 1509.2 460.8 1507.2 461.2 1505.1C461.6 1503.1 462.0 1501.1 462.5 1499.0C463.0 1497.0 463.5 1495.0 464.1 1493.1C464.6 1491.1 465.3 1489.2 466.0 1487.4C466.8 1485.5 467.6 1483.7 468.5 1482.0C469.5 1480.4 470.6 1478.6 471.7 1477.5C472.8 1476.5 474.0 1475.8 475.1 1475.9C476.2 1476.1 477.2 1477.1 478.2 1478.3C479.1 1479.5 479.9 1481.5 480.7 1483.3C481.5 1485.2 482.2 1487.5 482.9 1489.6C483.6 1491.7 484.3 1493.8 484.9 1495.9C485.5 1498.0 486.1 1500.1 486.6 1502.1C487.2 1504.2 487.7 1506.3 488.2 1508.3C488.7 1510.4 489.2 1512.4 489.6 1514.4C490.1 1516.4 490.5 1518.5 490.9 1520.5C491.3 1522.5 491.7 1524.5 492.0 1526.5C492.4 1528.5 492.7 1530.4 493.0 1532.4C493.4 1534.4 493.7 1536.4 494.0 1538.4C494.3 1540.3 494.5 1542.3 494.8 1544.3C495.1 1546.2 495.4 1548.2 495.6 1550.2C495.9 1552.1 496.1 1554.1 496.4 1556.0C496.6 1558.0 496.9 1560.0 497.1 1561.9C497.4 1563.9 497.6 1565.8 497.9 1567.8C498.1 1569.8 498.4 1571.7 498.7 1573.7C498.9 1575.7 499.2 1577.6 499.4 1579.6C499.7 1581.6 500.0 1583.6 500.2 1585.5C500.5 1587.5 500.8 1589.5 501.0 1591.4C501.3 1593.4 501.6 1595.4 501.8 1597.4C502.1 1599.4 502.4 1601.3 502.7 1603.3C502.9 1605.3 503.2 1607.3 503.5 1609.3C503.8 1611.2 504.1 1613.2 504.4 1615.2C504.6 1617.2 504.9 1619.2 505.2 1621.2C505.5 1623.2 505.8 1625.1 506.1 1627.1C506.4 1629.1 506.7 1631.1 506.9 1633.1C507.2 1635.1 507.5 1637.1 507.8 1639.1C508.1 1641.1 508.4 1643.1 508.7 1645.1C509.0 1647.0 509.3 1649.0 509.6 1651.0C509.9 1653.0 510.2 1655.0 510.5 1657.0C510.8 1659.0 511.1 1661.0 511.4 1663.0C511.8 1665.0 512.1 1667.0 512.4 1669.0C512.7 1671.0 513.0 1673.0 513.3 1675.0C513.6 1677.0 513.9 1679.0 514.2 1681.0C514.5 1683.0 514.8 1685.0 515.2 1687.0C515.5 1689.0 515.8 1690.9 516.1 1692.9C516.4 1694.9 516.7 1696.9 517.1 1698.9C517.4 1700.9 517.7 1702.9 518.0 1704.9C518.3 1706.9 518.6 1708.9 519.0 1710.9C519.3 1712.9 519.6 1714.9 519.9 1716.9C520.2 1718.9 520.6 1720.9 520.9 1722.9C521.2 1724.9 521.5 1726.9 521.8 1728.9C522.2 1730.8 522.5 1732.8 522.8 1734.8C523.1 1736.8 523.5 1738.8 523.8 1740.8C524.1 1742.8 524.4 1744.8 524.7 1746.8C525.1 1748.8 525.4 1750.7 525.7 1752.7C526.0 1754.7 526.4 1756.7 526.7 1758.7C527.0 1760.7 527.3 1762.7 527.7 1764.6C528.0 1766.6 528.3 1768.6 528.7 1770.6C529.0 1772.6 529.3 1774.6 529.6 1776.5C530.0 1778.5 530.3 1780.5 530.6 1782.5C531.0 1784.5 531.3 1786.4 531.7 1788.4C532.0 1790.4 532.3 1792.4 532.7 1794.4C533.0 1796.3 533.4 1798.3 533.7 1800.3C534.0 1802.3 534.4 1804.2 534.7 1806.2C535.1 1808.2 535.4 1810.2 535.8 1812.1C536.1 1814.1 536.5 1816.1 536.9 1818.1C537.2 1820.0 537.6 1822.0 537.9 1824.0C538.3 1826.0 538.7 1827.9 539.0 1829.9C539.4 1831.9 539.8 1833.8 540.1 1835.8C540.5 1837.8 540.9 1839.7 541.3 1841.7C541.6 1843.7 542.0 1845.6 542.4 1847.6C542.8 1849.6 543.2 1851.5 543.6 1853.5C543.9 1855.5 544.3 1857.4 544.7 1859.4C545.1 1861.4 545.5 1863.3 545.9 1865.3C546.3 1867.3 546.8 1869.2 547.2 1871.2C547.6 1873.1 548.0 1875.1 548.4 1877.1C548.8 1879.0 549.2 1881.0 549.7 1883.0C550.1 1884.9 550.5 1886.9 551.0 1888.8C551.4 1890.8 551.8 1892.7 552.3 1894.7C552.7 1896.7 553.2 1898.6 553.6 1900.6C554.1 1902.5 554.5 1904.5 555.0 1906.5C555.5 1908.4 555.9 1910.4 556.4 1912.3C556.9 1914.3 557.3 1916.2 557.8 1918.2C558.3 1920.1 558.8 1922.1 559.3 1924.0C559.8 1926.0 560.3 1927.9 560.8 1929.9C561.3 1931.9 561.8 1933.8 562.3 1935.8C562.8 1937.7 563.3 1939.7 563.9 1941.6C564.4 1943.5 565.0 1945.5 565.6 1947.4C566.2 1949.3 566.8 1951.2 567.5 1953.1C568.1 1955.0 568.8 1956.9 569.5 1958.8C570.3 1960.7 571.1 1962.5 571.9 1964.4C572.7 1966.2 573.6 1968.0 574.5 1969.8C575.4 1971.6 576.4 1973.4 577.5 1975.2C578.5 1976.9 579.6 1978.7 580.8 1980.4C582.0 1982.1 583.3 1983.8 584.6 1985.4C585.9 1987.0 587.3 1988.7 588.9 1990.1C590.4 1991.4 591.9 1992.8 593.6 1993.7C595.3 1994.6 597.1 1995.2 599.0 1995.5C600.8 1995.8 602.8 1995.7 604.7 1995.5C606.6 1995.2 608.6 1994.7 610.4 1994.1C612.3 1993.4 614.2 1992.5 616.0 1991.6C617.7 1990.6 619.4 1989.5 621.1 1988.4C622.7 1987.2 624.3 1985.9 625.8 1984.6C627.3 1983.2 628.7 1981.8 630.1 1980.3C631.5 1978.8 632.9 1977.2 634.2 1975.6C635.5 1974.1 636.8 1972.4 638.0 1970.8C639.2 1969.1 640.5 1967.5 641.7 1965.8C642.9 1964.1 644.0 1962.5 645.2 1960.8C646.4 1959.2 647.5 1957.6 648.7 1956.0C649.9 1954.4 651.0 1952.8 652.2 1951.3C653.4 1949.7 654.6 1948.2 655.8 1946.6C657.1 1945.1 658.3 1943.6 659.6 1942.1C660.9 1940.6 662.3 1939.1 663.7 1937.7C665.1 1936.2 666.5 1934.8 668.0 1933.4C669.5 1932.0 671.0 1930.6 672.6 1929.2C674.2 1927.9 675.8 1926.6 677.4 1925.3C679.1 1924.1 680.8 1922.9 682.5 1921.8C684.2 1920.6 686.0 1919.5 687.7 1918.5C689.5 1917.5 691.3 1916.6 693.2 1915.7C695.0 1914.9 696.8 1914.1 698.7 1913.4C700.6 1912.7 702.5 1912.1 704.4 1911.7C706.3 1911.2 708.2 1910.8 710.1 1910.5C712.0 1910.2 714.0 1910.1 715.9 1910.0C717.9 1910.0 719.8 1910.0 721.8 1910.2C723.7 1910.4 725.7 1910.7 727.6 1911.0C729.6 1911.4 731.5 1911.9 733.5 1912.4C735.4 1912.9 737.4 1913.6 739.3 1914.2C741.2 1914.9 743.1 1915.7 745.1 1916.5C747.0 1917.3 748.9 1918.1 750.7 1919.0C752.6 1919.9 754.5 1920.8 756.3 1921.8C758.2 1922.8 760.0 1923.7 761.8 1924.7C763.6 1925.7 765.4 1926.7 767.1 1927.8C768.9 1928.8 770.6 1929.8 772.3 1930.9C774.0 1931.9 775.7 1933.0 777.4 1934.0C779.1 1935.1 780.7 1936.2 782.4 1937.3C784.0 1938.4 785.6 1939.5 787.2 1940.6C788.8 1941.7 790.4 1942.9 792.0 1944.0C793.6 1945.2 795.2 1946.4 796.7 1947.6C798.3 1948.8 799.8 1950.0 801.4 1951.2C802.9 1952.5 804.5 1953.7 806.0 1955.0C807.5 1956.2 809.1 1957.5 810.6 1958.8C812.1 1960.1 813.6 1961.5 815.2 1962.8C816.7 1964.1 818.2 1965.5 819.7 1966.9C821.2 1968.2 822.8 1969.6 824.3 1970.9C825.8 1972.3 827.3 1973.7 828.9 1975.0C830.4 1976.4 831.9 1977.8 833.5 1979.1C835.0 1980.5 836.6 1981.8 838.2 1983.1C839.7 1984.5 841.3 1985.8 842.9 1987.1C844.5 1988.3 846.1 1989.6 847.7 1990.9C849.3 1992.1 850.9 1993.3 852.5 1994.5C854.2 1995.7 855.8 1996.9 857.5 1998.0C859.2 1999.1 860.9 2000.2 862.6 2001.3C864.3 2002.3 866.0 2003.3 867.7 2004.3C869.5 2005.2 871.3 2006.2 873.1 2007.0C874.8 2007.9 876.7 2008.7 878.5 2009.5C880.3 2010.2 882.2 2010.9 884.1 2011.6C886.0 2012.2 887.9 2012.8 889.8 2013.3C891.7 2013.9 893.7 2014.4 895.6 2014.8C897.6 2015.3 899.5 2015.7 901.5 2016.0C903.5 2016.3 905.4 2016.6 907.4 2016.9C909.4 2017.1 911.4 2017.3 913.4 2017.5C915.4 2017.6 917.4 2017.7 919.4 2017.8C921.4 2017.8 923.4 2017.8 925.3 2017.8C927.3 2017.8 929.3 2017.7 931.3 2017.6C933.3 2017.4 935.3 2017.3 937.3 2017.1C939.2 2016.9 941.2 2016.7 943.2 2016.4C945.2 2016.2 947.2 2015.9 949.1 2015.6C951.1 2015.2 953.1 2014.9 955.1 2014.5C957.0 2014.2 959.0 2013.8 961.0 2013.4C962.9 2013.0 964.9 2012.6 966.9 2012.1C968.9 2011.7 970.8 2011.2 972.8 2010.8C974.8 2010.3 976.7 2009.8 978.7 2009.4C980.7 2008.9 982.7 2008.4 984.6 2007.9C986.6 2007.4 988.6 2006.9 990.5 2006.5C992.5 2006.0 994.5 2005.5 996.5 2005.0C998.4 2004.5 1000.4 2004.1 1002.4 2003.6C1004.4 2003.2 1006.3 2002.7 1008.3 2002.3C1010.3 2001.8 1012.3 2001.4 1014.3 2001.0C1016.2 2000.6 1018.2 2000.2 1020.2 1999.9C1022.2 1999.5 1024.2 1999.2 1026.2 1998.9C1028.1 1998.6 1030.1 1998.3 1032.1 1998.0C1034.1 1997.8 1036.1 1997.5 1038.1 1997.4C1040.1 1997.2 1042.1 1997.0 1044.1 1996.9C1046.1 1996.7 1048.1 1996.6 1050.1 1996.6C1052.1 1996.5 1054.1 1996.4 1056.1 1996.4C1058.1 1996.3 1060.1 1996.3 1062.1 1996.3C1064.1 1996.3 1066.1 1996.3 1068.2 1996.3C1070.2 1996.3 1072.2 1996.3 1074.2 1996.3C1076.2 1996.4 1078.2 1996.4 1080.2 1996.4C1082.2 1996.5 1084.2 1996.5 1086.3 1996.6C1088.3 1996.6 1090.3 1996.6 1092.3 1996.7C1094.3 1996.7 1096.3 1996.7 1098.3 1996.8C1100.3 1996.8 1102.4 1996.8 1104.4 1996.8C1106.4 1996.8 1108.4 1996.8 1110.4 1996.8C1112.4 1996.8 1114.4 1996.7 1116.4 1996.7C1118.4 1996.7 1120.4 1996.6 1122.5 1996.6C1124.5 1996.5 1126.5 1996.5 1128.5 1996.4C1130.5 1996.3 1132.5 1996.3 1134.5 1996.2C1136.5 1996.1 1138.5 1996.0 1140.5 1995.9C1142.5 1995.8 1144.5 1995.7 1146.6 1995.6C1148.6 1995.5 1150.6 1995.4 1152.6 1995.3C1154.6 1995.2 1156.6 1995.1 1158.6 1995.0C1160.6 1994.8 1162.6 1994.7 1164.6 1994.6C1166.6 1994.4 1168.6 1994.3 1170.7 1994.2C1172.7 1994.0 1174.7 1993.9 1176.7 1993.7C1178.7 1993.6 1180.7 1993.5 1182.7 1993.3C1184.7 1993.2 1186.7 1993.1 1188.7 1992.9C1190.8 1992.8 1192.8 1992.7 1194.8 1992.6C1196.8 1992.5 1198.8 1992.3 1200.8 1992.2C1202.8 1992.2 1204.8 1992.1 1206.8 1992.0C1208.8 1991.9 1210.8 1991.9 1212.8 1991.8C1214.8 1991.8 1216.8 1991.7 1218.8 1991.7C1220.8 1991.7 1222.8 1991.7 1224.8 1991.8C1226.8 1991.8 1228.8 1991.8 1230.8 1991.9C1232.8 1992.0 1234.8 1992.1 1236.8 1992.2C1238.8 1992.3 1240.8 1992.5 1242.8 1992.6C1244.8 1992.8 1246.8 1993.0 1248.8 1993.2C1250.7 1993.5 1252.7 1993.7 1254.7 1994.0C1256.7 1994.3 1258.7 1994.6 1260.7 1995.0C1262.6 1995.3 1264.6 1995.6 1266.6 1996.0C1268.6 1996.4 1270.5 1996.7 1272.5 1997.1C1274.5 1997.5 1276.5 1997.9 1278.5 1998.3C1280.4 1998.7 1282.4 1999.1 1284.4 1999.5C1286.4 1999.9 1288.3 2000.4 1290.3 2000.8C1292.3 2001.2 1294.3 2001.6 1296.2 2002.0C1298.2 2002.3 1300.2 2002.7 1302.2 2003.1C1304.2 2003.5 1306.2 2003.8 1308.1 2004.2C1310.1 2004.5 1312.1 2004.8 1314.1 2005.1C1316.1 2005.5 1318.1 2005.8 1320.1 2006.0C1322.0 2006.3 1324.0 2006.6 1326.0 2006.9C1328.0 2007.1 1330.0 2007.4 1332.0 2007.6C1334.0 2007.9 1336.0 2008.1 1338.0 2008.3C1340.0 2008.5 1342.0 2008.7 1344.0 2008.9C1346.0 2009.1 1348.0 2009.3 1350.0 2009.5C1352.0 2009.7 1354.0 2009.8 1356.0 2010.0C1358.0 2010.1 1360.0 2010.3 1362.0 2010.4C1364.0 2010.6 1366.0 2010.7 1368.0 2010.9C1370.0 2011.0 1372.0 2011.1 1374.0 2011.2C1376.0 2011.3 1378.0 2011.4 1380.0 2011.5C1382.0 2011.6 1384.0 2011.7 1386.0 2011.8C1388.1 2011.9 1390.1 2012.0 1392.1 2012.1C1394.1 2012.2 1396.1 2012.3 1398.1 2012.3C1400.1 2012.4 1402.1 2012.5 1404.1 2012.5C1406.1 2012.6 1408.1 2012.7 1410.2 2012.7C1412.2 2012.8 1414.2 2012.9 1416.2 2012.9C1418.2 2013.0 1420.2 2013.0 1422.2 2013.1C1424.2 2013.2 1426.2 2013.2 1428.3 2013.3C1430.3 2013.3 1432.3 2013.4 1434.3 2013.5C1436.3 2013.5 1438.3 2013.6 1440.3 2013.6C1442.3 2013.7 1444.4 2013.7 1446.4 2013.8C1448.4 2013.9 1450.4 2013.9 1452.4 2014.0C1454.4 2014.1 1456.4 2014.1 1458.4 2014.2C1460.4 2014.3 1462.5 2014.4 1464.5 2014.5C1466.5 2014.5 1468.5 2014.6 1470.5 2014.7C1472.5 2014.8 1474.5 2014.9 1476.5 2015.0C1478.5 2015.1 1480.5 2015.2 1482.6 2015.3C1484.6 2015.4 1486.6 2015.5 1488.6 2015.7C1490.6 2015.8 1492.6 2015.9 1494.6 2016.0C1496.6 2016.2 1498.6 2016.3 1500.6 2016.5C1502.6 2016.6 1504.6 2016.7 1506.6 2016.9C1508.6 2017.0 1510.6 2017.2 1512.6 2017.3C1514.6 2017.5 1516.7 2017.6 1518.7 2017.8C1520.7 2017.9 1522.7 2018.1 1524.7 2018.3C1526.7 2018.4 1528.7 2018.6 1530.7 2018.8C1532.7 2018.9 1534.7 2019.1 1536.7 2019.3C1538.7 2019.4 1540.7 2019.6 1542.7 2019.8C1544.7 2019.9 1546.7 2020.1 1548.7 2020.3C1550.7 2020.5 1552.7 2020.6 1554.7 2020.8C1556.7 2021.0 1558.7 2021.1 1560.7 2021.3C1562.7 2021.5 1564.7 2021.7 1566.7 2021.8C1568.7 2022.0 1570.7 2022.2 1572.7 2022.3C1574.7 2022.5 1576.8 2022.7 1578.8 2022.8C1580.8 2023.0 1582.8 2023.2 1584.8 2023.3C1586.8 2023.5 1588.8 2023.7 1590.8 2023.8C1592.8 2024.0 1594.8 2024.1 1596.8 2024.3C1598.8 2024.4 1600.8 2024.6 1602.8 2024.7C1604.8 2024.9 1606.8 2025.0 1608.8 2025.1C1610.8 2025.3 1612.8 2025.4 1614.8 2025.6C1616.8 2025.7 1618.8 2025.8 1620.8 2025.9C1622.9 2026.0 1624.9 2026.2 1626.9 2026.3C1628.9 2026.4 1630.9 2026.5 1632.9 2026.6C1634.9 2026.7 1636.9 2026.8 1638.9 2026.9C1640.9 2027.0 1642.9 2027.1 1644.9 2027.1C1646.9 2027.2 1649.0 2027.3 1651.0 2027.4C1653.0 2027.4 1655.0 2027.5 1657.0 2027.5C1659.0 2027.6 1661.0 2027.6 1663.0 2027.7C1665.0 2027.7 1667.1 2027.7 1669.1 2027.7C1671.1 2027.8 1673.1 2027.8 1675.1 2027.8C1677.1 2027.8 1679.1 2027.8 1681.2 2027.8C1683.2 2027.8 1686.2 2027.7 1687.2 2027.7"/>
<line x1="638.1" y1="1443.8" x2="523.6" y2="1520.6" stroke="#262626" stroke-width="2.2"/><polygon points="496.2,1539.0 521.6,1510.5 532.2,1526.3" fill="#000"/>
<line x1="892.4" y1="1627.2" x2="781.3" y2="1688.8" stroke="#262626" stroke-width="2.2"/><polygon points="752.4,1704.8 780.2,1678.6 789.4,1695.2" fill="#000"/>
<line x1="811.4" y1="1814.3" x2="695.7" y2="1877.5" stroke="#262626" stroke-width="2.2"/><polygon points="666.7,1893.3 694.6,1867.2 703.7,1883.9" fill="#000"/>
<text class="nr" x="657.5" y="1460.0">3<tspan dx="5" dy="-10">′</tspan></text>
<text class="nb" x="897.5" y="1652.4">2<tspan dx="1" dy="-2">′</tspan></text>
<text class="nb" x="822.5" y="1837.1">1<tspan dx="-2" dy="-10">′</tspan></text>
</g>
<text class="cap" y="2430"><tspan x="905.5">(</tspan><tspan x="934" font-weight="bold">b</tspan><tspan x="983">)</tspan></text>
</svg>
</body></html>
